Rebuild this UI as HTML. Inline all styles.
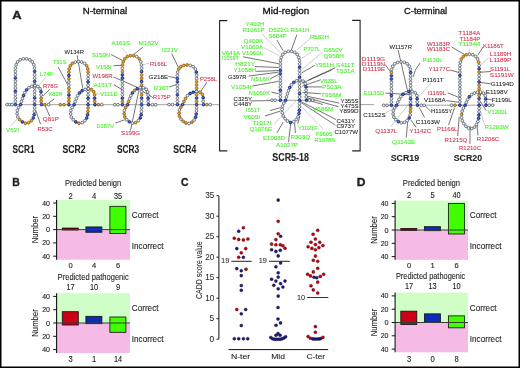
<!DOCTYPE html><html><head><meta charset="utf-8"><style>html,body{margin:0;padding:0;background:#fff;}svg{display:block;font-family:"Liberation Sans",sans-serif;will-change:transform;}</style></head><body><svg width="520" height="368" viewBox="0 0 520 368" font-family="Liberation Sans, sans-serif"><defs><radialGradient id="gl" cx="0.45" cy="0.45" r="0.6"><stop offset="0" stop-color="#ffffff"/><stop offset="0.55" stop-color="#dfe8f0"/><stop offset="1" stop-color="#a8b8c8"/></radialGradient><radialGradient id="gb" cx="0.45" cy="0.45" r="0.6"><stop offset="0" stop-color="#6a8cf0"/><stop offset="0.5" stop-color="#2a4cc8"/><stop offset="1" stop-color="#12289a"/></radialGradient><radialGradient id="go" cx="0.45" cy="0.45" r="0.6"><stop offset="0" stop-color="#f0b430"/><stop offset="0.6" stop-color="#d8961a"/><stop offset="1" stop-color="#b07408"/></radialGradient></defs><rect x="0" y="0" width="520" height="368" fill="#fff"/><line x1="58.10" y1="66.90" x2="67.50" y2="84.40" stroke="#2a2a2a" stroke-width="0.65"/><line x1="45.60" y1="77.25" x2="38.75" y2="85.60" stroke="#9a9a9a" stroke-width="0.5"/><line x1="49.75" y1="89.40" x2="43.10" y2="96.00" stroke="#2a2a2a" stroke-width="0.65"/><line x1="54.40" y1="98.75" x2="48.75" y2="103.10" stroke="#2a2a2a" stroke-width="0.65"/><line x1="10.50" y1="126.20" x2="17.20" y2="118.80" stroke="#9a9a9a" stroke-width="0.5"/><line x1="40.60" y1="124.30" x2="35.70" y2="110.20" stroke="#2a2a2a" stroke-width="0.65"/><line x1="49.80" y1="116.30" x2="44.90" y2="105.20" stroke="#2a2a2a" stroke-width="0.65"/><line x1="77.20" y1="55.40" x2="82.75" y2="88.50" stroke="#2a2a2a" stroke-width="0.65"/><line x1="111.10" y1="54.50" x2="122.20" y2="60.30" stroke="#2a2a2a" stroke-width="0.65"/><line x1="113.50" y1="65.80" x2="121.50" y2="65.20" stroke="#2a2a2a" stroke-width="0.65"/><line x1="113.20" y1="76.90" x2="137.10" y2="87.20" stroke="#2a2a2a" stroke-width="0.65"/><line x1="114.00" y1="84.60" x2="122.50" y2="90.00" stroke="#2a2a2a" stroke-width="0.65"/><line x1="95.70" y1="93.80" x2="99.60" y2="93.80" stroke="#9a9a9a" stroke-width="0.5"/><line x1="121.40" y1="47.50" x2="128.30" y2="55.20" stroke="#9a9a9a" stroke-width="0.5"/><line x1="142.90" y1="47.10" x2="132.90" y2="55.20" stroke="#2a2a2a" stroke-width="0.65"/><line x1="149.10" y1="62.90" x2="142.20" y2="65.20" stroke="#9a9a9a" stroke-width="0.5"/><line x1="153.20" y1="97.70" x2="141.70" y2="90.80" stroke="#2a2a2a" stroke-width="0.65"/><line x1="130.50" y1="130.50" x2="139.50" y2="87.50" stroke="#2a2a2a" stroke-width="0.65"/><line x1="115.40" y1="123.10" x2="124.75" y2="119.75" stroke="#2a2a2a" stroke-width="0.65"/><line x1="168.30" y1="76.40" x2="176.30" y2="78.00" stroke="#2a2a2a" stroke-width="0.65"/><line x1="169.40" y1="86.90" x2="176.30" y2="84.60" stroke="#2a2a2a" stroke-width="0.65"/><line x1="171.70" y1="53.50" x2="178.50" y2="67.70" stroke="#2a2a2a" stroke-width="0.65"/><line x1="206.90" y1="82.25" x2="200.60" y2="91.60" stroke="#2a2a2a" stroke-width="0.65"/><line x1="261.50" y1="33.50" x2="280.80" y2="53.10" stroke="#9a9a9a" stroke-width="0.5"/><line x1="276.90" y1="40.00" x2="283.10" y2="50.80" stroke="#2a2a2a" stroke-width="0.65"/><line x1="296.90" y1="34.60" x2="291.10" y2="50.80" stroke="#2a2a2a" stroke-width="0.65"/><line x1="263.80" y1="47.70" x2="279.20" y2="55.70" stroke="#9a9a9a" stroke-width="0.5"/><line x1="243.10" y1="56.80" x2="278.50" y2="63.70" stroke="#2a2a2a" stroke-width="0.65"/><line x1="254.60" y1="66.50" x2="278.50" y2="67.50" stroke="#2a2a2a" stroke-width="0.65"/><line x1="256.20" y1="71.40" x2="278.50" y2="70.60" stroke="#2a2a2a" stroke-width="0.65"/><line x1="248.50" y1="76.00" x2="278.50" y2="72.20" stroke="#2a2a2a" stroke-width="0.65"/><line x1="270.00" y1="79.00" x2="278.50" y2="74.50" stroke="#2a2a2a" stroke-width="0.65"/><line x1="252.30" y1="86.00" x2="278.50" y2="81.40" stroke="#2a2a2a" stroke-width="0.65"/><line x1="271.50" y1="92.20" x2="278.50" y2="93.70" stroke="#2a2a2a" stroke-width="0.65"/><line x1="250.80" y1="100.90" x2="270.80" y2="100.60" stroke="#2a2a2a" stroke-width="0.65"/><line x1="310.00" y1="38.50" x2="296.90" y2="50.00" stroke="#9a9a9a" stroke-width="0.5"/><line x1="310.80" y1="52.30" x2="301.50" y2="58.50" stroke="#9a9a9a" stroke-width="0.5"/><line x1="322.30" y1="52.30" x2="302.30" y2="69.20" stroke="#9a9a9a" stroke-width="0.5"/><line x1="314.60" y1="65.40" x2="301.50" y2="73.00" stroke="#2a2a2a" stroke-width="0.65"/><line x1="335.40" y1="67.70" x2="308.50" y2="80.00" stroke="#2a2a2a" stroke-width="0.65"/><line x1="331.50" y1="70.00" x2="302.30" y2="83.10" stroke="#2a2a2a" stroke-width="0.65"/><line x1="320.00" y1="80.00" x2="302.30" y2="86.20" stroke="#2a2a2a" stroke-width="0.65"/><line x1="322.30" y1="86.90" x2="306.90" y2="86.90" stroke="#2a2a2a" stroke-width="0.65"/><line x1="320.80" y1="93.80" x2="302.30" y2="92.30" stroke="#2a2a2a" stroke-width="0.65"/><line x1="339.20" y1="103.10" x2="306.90" y2="96.20" stroke="#2a2a2a" stroke-width="0.65"/><line x1="338.50" y1="106.80" x2="306.00" y2="97.50" stroke="#2a2a2a" stroke-width="0.65"/><line x1="323.00" y1="104.50" x2="306.90" y2="99.80" stroke="#2a2a2a" stroke-width="0.65"/><line x1="335.40" y1="125.20" x2="301.50" y2="102.90" stroke="#2a2a2a" stroke-width="0.65"/><line x1="336.00" y1="119.50" x2="299.50" y2="100.80" stroke="#2a2a2a" stroke-width="0.65"/><line x1="323.00" y1="129.00" x2="302.30" y2="107.50" stroke="#9a9a9a" stroke-width="0.5"/><line x1="297.70" y1="123.70" x2="300.00" y2="116.00" stroke="#2a2a2a" stroke-width="0.65"/><line x1="294.60" y1="122.90" x2="295.40" y2="133.00" stroke="#2a2a2a" stroke-width="0.65"/><line x1="290.80" y1="122.90" x2="288.50" y2="142.20" stroke="#2a2a2a" stroke-width="0.65"/><line x1="283.10" y1="122.20" x2="276.90" y2="133.00" stroke="#2a2a2a" stroke-width="0.65"/><line x1="273.80" y1="124.50" x2="296.20" y2="100.60" stroke="#9a9a9a" stroke-width="0.5"/><line x1="270.00" y1="110.60" x2="280.80" y2="107.50" stroke="#2a2a2a" stroke-width="0.65"/><line x1="265.00" y1="116.00" x2="280.50" y2="111.00" stroke="#2a2a2a" stroke-width="0.65"/><line x1="385.00" y1="64.40" x2="390.60" y2="71.90" stroke="#2a2a2a" stroke-width="0.65"/><line x1="398.10" y1="50.00" x2="407.70" y2="91.50" stroke="#2a2a2a" stroke-width="0.65"/><line x1="415.40" y1="70.00" x2="413.10" y2="76.90" stroke="#2a2a2a" stroke-width="0.65"/><line x1="420.00" y1="63.10" x2="415.40" y2="70.00" stroke="#2a2a2a" stroke-width="0.65"/><line x1="385.40" y1="93.10" x2="410.80" y2="94.60" stroke="#2a2a2a" stroke-width="0.65"/><line x1="430.80" y1="83.10" x2="418.50" y2="96.90" stroke="#9a9a9a" stroke-width="0.5"/><line x1="385.40" y1="113.10" x2="394.60" y2="107.50" stroke="#9a9a9a" stroke-width="0.5"/><line x1="390.80" y1="126.80" x2="410.00" y2="102.20" stroke="#9a9a9a" stroke-width="0.5"/><line x1="416.20" y1="127.50" x2="410.80" y2="119.80" stroke="#2a2a2a" stroke-width="0.65"/><line x1="406.20" y1="137.50" x2="407.70" y2="122.20" stroke="#2a2a2a" stroke-width="0.65"/><line x1="424.60" y1="117.50" x2="419.20" y2="107.50" stroke="#2a2a2a" stroke-width="0.65"/><line x1="430.80" y1="111.40" x2="425.40" y2="106.00" stroke="#2a2a2a" stroke-width="0.65"/><line x1="451.50" y1="46.90" x2="464.60" y2="54.60" stroke="#2a2a2a" stroke-width="0.65"/><line x1="469.20" y1="48.50" x2="469.20" y2="53.80" stroke="#9a9a9a" stroke-width="0.5"/><line x1="483.10" y1="46.90" x2="477.70" y2="55.40" stroke="#2a2a2a" stroke-width="0.65"/><line x1="489.20" y1="57.70" x2="480.80" y2="64.60" stroke="#9a9a9a" stroke-width="0.5"/><line x1="450.00" y1="70.00" x2="459.20" y2="72.60" stroke="#2a2a2a" stroke-width="0.65"/><line x1="490.80" y1="71.50" x2="479.20" y2="72.30" stroke="#2a2a2a" stroke-width="0.65"/><line x1="490.80" y1="83.80" x2="479.20" y2="82.30" stroke="#2a2a2a" stroke-width="0.65"/><line x1="447.70" y1="92.90" x2="459.20" y2="97.50" stroke="#2a2a2a" stroke-width="0.65"/><line x1="446.20" y1="100.60" x2="458.50" y2="102.20" stroke="#2a2a2a" stroke-width="0.65"/><line x1="448.50" y1="125.20" x2="454.60" y2="107.50" stroke="#2a2a2a" stroke-width="0.65"/><line x1="485.40" y1="92.20" x2="480.00" y2="94.50" stroke="#2a2a2a" stroke-width="0.65"/><line x1="491.50" y1="99.50" x2="486.20" y2="99.10" stroke="#2a2a2a" stroke-width="0.65"/><line x1="486.20" y1="110.60" x2="480.80" y2="102.20" stroke="#2a2a2a" stroke-width="0.65"/><line x1="484.60" y1="125.20" x2="480.80" y2="112.20" stroke="#9a9a9a" stroke-width="0.5"/><line x1="459.20" y1="116.80" x2="457.70" y2="136.00" stroke="#2a2a2a" stroke-width="0.65"/><line x1="470.00" y1="126.00" x2="470.00" y2="144.00" stroke="#2a2a2a" stroke-width="0.65"/><line x1="478.00" y1="135.50" x2="477.00" y2="125.00" stroke="#2a2a2a" stroke-width="0.65"/><line x1="5.00" y1="104.70" x2="219.20" y2="104.70" stroke="#8a8a8a" stroke-width="0.8"/><line x1="266.00" y1="100.25" x2="318.00" y2="100.25" stroke="#8a8a8a" stroke-width="0.8"/><line x1="360.00" y1="104.60" x2="374.00" y2="104.60" stroke="#8a8a8a" stroke-width="0.8"/><line x1="382.00" y1="105.20" x2="495.00" y2="105.20" stroke="#8a8a8a" stroke-width="0.8"/><text x="12.17" y="18.60" font-size="11.63" fill="#222" font-weight="bold" stroke="#222" stroke-width="0.35" textLength="9.37" lengthAdjust="spacingAndGlyphs">A</text><text x="82.80" y="14.30" font-size="9.97" fill="#111" font-weight="normal" stroke="#111" stroke-width="0.3" textLength="44.40" lengthAdjust="spacingAndGlyphs">N-terminal</text><text x="262.60" y="14.30" font-size="9.97" fill="#111" font-weight="normal" stroke="#111" stroke-width="0.3" textLength="46.60" lengthAdjust="spacingAndGlyphs">Mid-region</text><text x="404.10" y="14.30" font-size="9.97" fill="#111" font-weight="normal" stroke="#111" stroke-width="0.3" textLength="43.10" lengthAdjust="spacingAndGlyphs">C-terminal</text><text x="12.49" y="152.90" font-size="10.32" fill="#222" font-weight="bold" stroke="#222" stroke-width="0.08" textLength="22.01" lengthAdjust="spacingAndGlyphs">SCR1</text><text x="62.49" y="152.90" font-size="10.32" fill="#222" font-weight="bold" stroke="#222" stroke-width="0.08" textLength="23.21" lengthAdjust="spacingAndGlyphs">SCR2</text><text x="116.99" y="152.90" font-size="10.32" fill="#222" font-weight="bold" stroke="#222" stroke-width="0.08" textLength="22.21" lengthAdjust="spacingAndGlyphs">SCR3</text><text x="173.29" y="152.90" font-size="10.32" fill="#222" font-weight="bold" stroke="#222" stroke-width="0.08" textLength="22.91" lengthAdjust="spacingAndGlyphs">SCR4</text><text x="272.29" y="161.40" font-size="10.32" fill="#222" font-weight="bold" stroke="#222" stroke-width="0.08" textLength="36.61" lengthAdjust="spacingAndGlyphs">SCR5-18</text><text x="390.70" y="161.20" font-size="9.88" fill="#222" font-weight="bold" stroke="#222" stroke-width="0.08" textLength="28.40" lengthAdjust="spacingAndGlyphs">SCR19</text><text x="453.70" y="161.20" font-size="9.88" fill="#222" font-weight="bold" stroke="#222" stroke-width="0.08" textLength="28.40" lengthAdjust="spacingAndGlyphs">SCR20</text><text x="64.38" y="54.00" font-size="6.25" fill="#222" font-weight="normal" stroke="#222" stroke-width="0.07" textLength="19.50" lengthAdjust="spacingAndGlyphs">W134R</text><text x="53.12" y="64.00" font-size="6.25" fill="#3cee1c" font-weight="normal" stroke="#3cee1c" stroke-width="0.07" textLength="13.25" lengthAdjust="spacingAndGlyphs">T91S</text><text x="39.88" y="75.75" font-size="6.25" fill="#3cee1c" font-weight="normal" stroke="#3cee1c" stroke-width="0.07" textLength="13.50" lengthAdjust="spacingAndGlyphs">L74F</text><text x="42.88" y="87.50" font-size="6.25" fill="#d42a45" font-weight="normal" stroke="#d42a45" stroke-width="0.07" textLength="15.25" lengthAdjust="spacingAndGlyphs">R78G</text><text x="48.62" y="95.50" font-size="6.25" fill="#3cee1c" font-weight="normal" stroke="#3cee1c" stroke-width="0.07" textLength="14.00" lengthAdjust="spacingAndGlyphs">K82R</text><text x="42.88" y="121.00" font-size="6.25" fill="#d42a45" font-weight="normal" stroke="#d42a45" stroke-width="0.07" textLength="16.00" lengthAdjust="spacingAndGlyphs">Q81P</text><text x="37.38" y="130.50" font-size="6.25" fill="#d42a45" font-weight="normal" stroke="#d42a45" stroke-width="0.07" textLength="15.25" lengthAdjust="spacingAndGlyphs">R53C</text><text x="6.12" y="131.70" font-size="6.25" fill="#3cee1c" font-weight="normal" stroke="#3cee1c" stroke-width="0.07" textLength="12.75" lengthAdjust="spacingAndGlyphs">V62I</text><text x="111.38" y="45.25" font-size="6.25" fill="#3cee1c" font-weight="normal" stroke="#3cee1c" stroke-width="0.07" textLength="18.75" lengthAdjust="spacingAndGlyphs">A161S</text><text x="138.62" y="45.25" font-size="6.25" fill="#3cee1c" font-weight="normal" stroke="#3cee1c" stroke-width="0.07" textLength="20.25" lengthAdjust="spacingAndGlyphs">M162V</text><text x="91.88" y="56.80" font-size="6.25" fill="#3cee1c" font-weight="normal" stroke="#3cee1c" stroke-width="0.07" textLength="18.25" lengthAdjust="spacingAndGlyphs">S159N</text><text x="96.12" y="68.75" font-size="6.25" fill="#3cee1c" font-weight="normal" stroke="#3cee1c" stroke-width="0.07" textLength="15.25" lengthAdjust="spacingAndGlyphs">V158I</text><text x="92.38" y="78.25" font-size="6.25" fill="#d42a45" font-weight="normal" stroke="#d42a45" stroke-width="0.07" textLength="20.25" lengthAdjust="spacingAndGlyphs">W198R</text><text x="93.62" y="86.80" font-size="6.25" fill="#3cee1c" font-weight="normal" stroke="#3cee1c" stroke-width="0.07" textLength="18.50" lengthAdjust="spacingAndGlyphs">A151T</text><text x="99.88" y="95.50" font-size="6.25" fill="#3cee1c" font-weight="normal" stroke="#3cee1c" stroke-width="0.07" textLength="17.75" lengthAdjust="spacingAndGlyphs">V111E</text><text x="96.38" y="127.50" font-size="6.25" fill="#3cee1c" font-weight="normal" stroke="#3cee1c" stroke-width="0.07" textLength="17.75" lengthAdjust="spacingAndGlyphs">D187V</text><text x="121.12" y="135.30" font-size="6.25" fill="#d42a45" font-weight="normal" stroke="#d42a45" stroke-width="0.07" textLength="19.00" lengthAdjust="spacingAndGlyphs">S199G</text><text x="161.97" y="51.80" font-size="6.25" fill="#3cee1c" font-weight="normal" stroke="#3cee1c" stroke-width="0.07" textLength="15.95" lengthAdjust="spacingAndGlyphs">I221V</text><text x="149.88" y="66.00" font-size="6.25" fill="#d42a45" font-weight="normal" stroke="#d42a45" stroke-width="0.07" textLength="17.25" lengthAdjust="spacingAndGlyphs">R166L</text><text x="148.62" y="78.50" font-size="6.25" fill="#222" font-weight="normal" stroke="#222" stroke-width="0.07" textLength="19.50" lengthAdjust="spacingAndGlyphs">G218E</text><text x="199.88" y="81.00" font-size="6.25" fill="#d42a45" font-weight="normal" stroke="#d42a45" stroke-width="0.07" textLength="17.25" lengthAdjust="spacingAndGlyphs">P258L</text><text x="153.62" y="89.70" font-size="6.25" fill="#3cee1c" font-weight="normal" stroke="#3cee1c" stroke-width="0.07" textLength="15.25" lengthAdjust="spacingAndGlyphs">I216T</text><text x="153.12" y="99.20" font-size="6.25" fill="#d42a45" font-weight="normal" stroke="#d42a45" stroke-width="0.07" textLength="17.50" lengthAdjust="spacingAndGlyphs">R175P</text><text x="245.62" y="26.20" font-size="6.25" fill="#3cee1c" font-weight="normal" stroke="#3cee1c" stroke-width="0.07" textLength="19.00" lengthAdjust="spacingAndGlyphs">Y402H</text><text x="242.38" y="32.40" font-size="6.25" fill="#3cee1c" font-weight="normal" stroke="#3cee1c" stroke-width="0.07" textLength="22.25" lengthAdjust="spacingAndGlyphs">R1061P</text><text x="268.62" y="32.40" font-size="6.25" fill="#3cee1c" font-weight="normal" stroke="#3cee1c" stroke-width="0.07" textLength="20.25" lengthAdjust="spacingAndGlyphs">D522G</text><text x="290.38" y="32.40" font-size="6.25" fill="#3cee1c" font-weight="normal" stroke="#3cee1c" stroke-width="0.07" textLength="19.00" lengthAdjust="spacingAndGlyphs">R341H</text><text x="268.62" y="37.50" font-size="6.25" fill="#3cee1c" font-weight="normal" stroke="#3cee1c" stroke-width="0.07" textLength="17.75" lengthAdjust="spacingAndGlyphs">S884P</text><text x="309.88" y="38.60" font-size="6.25" fill="#3cee1c" font-weight="normal" stroke="#3cee1c" stroke-width="0.07" textLength="19.00" lengthAdjust="spacingAndGlyphs">R582H</text><text x="243.62" y="42.80" font-size="6.25" fill="#3cee1c" font-weight="normal" stroke="#3cee1c" stroke-width="0.07" textLength="19.50" lengthAdjust="spacingAndGlyphs">Q400K</text><text x="241.12" y="48.70" font-size="6.25" fill="#3cee1c" font-weight="normal" stroke="#3cee1c" stroke-width="0.07" textLength="22.00" lengthAdjust="spacingAndGlyphs">V1060A</text><text x="221.88" y="54.90" font-size="6.25" fill="#3cee1c" font-weight="normal" stroke="#3cee1c" stroke-width="0.07" textLength="18.25" lengthAdjust="spacingAndGlyphs">V641A</text><text x="241.88" y="54.90" font-size="6.25" fill="#3cee1c" font-weight="normal" stroke="#3cee1c" stroke-width="0.07" textLength="21.25" lengthAdjust="spacingAndGlyphs">V1060L</text><text x="221.88" y="60.00" font-size="6.25" fill="#3cee1c" font-weight="normal" stroke="#3cee1c" stroke-width="0.07" textLength="17.00" lengthAdjust="spacingAndGlyphs">I1059T</text><text x="235.38" y="66.20" font-size="6.25" fill="#3cee1c" font-weight="normal" stroke="#3cee1c" stroke-width="0.07" textLength="19.75" lengthAdjust="spacingAndGlyphs">H821Y</text><text x="233.62" y="72.00" font-size="6.25" fill="#3cee1c" font-weight="normal" stroke="#3cee1c" stroke-width="0.07" textLength="22.75" lengthAdjust="spacingAndGlyphs">Y1058H</text><text x="227.88" y="78.80" font-size="6.25" fill="#222" font-weight="normal" stroke="#222" stroke-width="0.07" textLength="18.50" lengthAdjust="spacingAndGlyphs">G397R</text><text x="251.12" y="81.00" font-size="6.25" fill="#3cee1c" font-weight="normal" stroke="#3cee1c" stroke-width="0.07" textLength="19.00" lengthAdjust="spacingAndGlyphs">N516K</text><text x="231.12" y="89.30" font-size="6.25" fill="#3cee1c" font-weight="normal" stroke="#3cee1c" stroke-width="0.07" textLength="20.25" lengthAdjust="spacingAndGlyphs">V1054I</text><text x="248.62" y="95.20" font-size="6.25" fill="#3cee1c" font-weight="normal" stroke="#3cee1c" stroke-width="0.07" textLength="21.50" lengthAdjust="spacingAndGlyphs">N1050K</text><text x="233.62" y="100.60" font-size="6.25" fill="#222" font-weight="normal" stroke="#222" stroke-width="0.07" textLength="18.50" lengthAdjust="spacingAndGlyphs">C325Y</text><text x="233.62" y="106.40" font-size="6.25" fill="#222" font-weight="normal" stroke="#222" stroke-width="0.07" textLength="18.50" lengthAdjust="spacingAndGlyphs">C448Y</text><text x="303.62" y="51.00" font-size="6.25" fill="#3cee1c" font-weight="normal" stroke="#3cee1c" stroke-width="0.07" textLength="16.50" lengthAdjust="spacingAndGlyphs">P707L</text><text x="323.62" y="51.80" font-size="6.25" fill="#3cee1c" font-weight="normal" stroke="#3cee1c" stroke-width="0.07" textLength="19.00" lengthAdjust="spacingAndGlyphs">G650V</text><text x="323.62" y="57.80" font-size="6.25" fill="#3cee1c" font-weight="normal" stroke="#3cee1c" stroke-width="0.07" textLength="20.25" lengthAdjust="spacingAndGlyphs">Q950H</text><text x="314.88" y="67.30" font-size="6.25" fill="#3cee1c" font-weight="normal" stroke="#3cee1c" stroke-width="0.07" textLength="19.00" lengthAdjust="spacingAndGlyphs">Y951H</text><text x="336.12" y="67.30" font-size="6.25" fill="#3cee1c" font-weight="normal" stroke="#3cee1c" stroke-width="0.07" textLength="18.50" lengthAdjust="spacingAndGlyphs">S411T</text><text x="336.12" y="72.50" font-size="6.25" fill="#3cee1c" font-weight="normal" stroke="#3cee1c" stroke-width="0.07" textLength="18.50" lengthAdjust="spacingAndGlyphs">T531A</text><text x="319.88" y="82.50" font-size="6.25" fill="#3cee1c" font-weight="normal" stroke="#3cee1c" stroke-width="0.07" textLength="17.75" lengthAdjust="spacingAndGlyphs">V835L</text><text x="322.38" y="89.30" font-size="6.25" fill="#3cee1c" font-weight="normal" stroke="#3cee1c" stroke-width="0.07" textLength="19.00" lengthAdjust="spacingAndGlyphs">P503A</text><text x="321.12" y="96.70" font-size="6.25" fill="#3cee1c" font-weight="normal" stroke="#3cee1c" stroke-width="0.07" textLength="20.25" lengthAdjust="spacingAndGlyphs">T956M</text><text x="340.38" y="102.50" font-size="6.25" fill="#222" font-weight="normal" stroke="#222" stroke-width="0.07" textLength="18.25" lengthAdjust="spacingAndGlyphs">Y355S</text><text x="340.38" y="107.80" font-size="6.25" fill="#222" font-weight="normal" stroke="#222" stroke-width="0.07" textLength="18.25" lengthAdjust="spacingAndGlyphs">Y475S</text><text x="339.38" y="113.00" font-size="6.25" fill="#222" font-weight="normal" stroke="#222" stroke-width="0.07" textLength="19.25" lengthAdjust="spacingAndGlyphs">Y899D</text><text x="246.12" y="112.30" font-size="6.25" fill="#3cee1c" font-weight="normal" stroke="#3cee1c" stroke-width="0.07" textLength="14.00" lengthAdjust="spacingAndGlyphs">I551T</text><text x="243.62" y="118.60" font-size="6.25" fill="#3cee1c" font-weight="normal" stroke="#3cee1c" stroke-width="0.07" textLength="16.50" lengthAdjust="spacingAndGlyphs">V609I</text><text x="252.38" y="124.90" font-size="6.25" fill="#3cee1c" font-weight="normal" stroke="#3cee1c" stroke-width="0.07" textLength="19.00" lengthAdjust="spacingAndGlyphs">T1017I</text><text x="249.38" y="131.20" font-size="6.25" fill="#3cee1c" font-weight="normal" stroke="#3cee1c" stroke-width="0.07" textLength="22.75" lengthAdjust="spacingAndGlyphs">Q1076E</text><text x="262.88" y="139.70" font-size="6.25" fill="#3cee1c" font-weight="normal" stroke="#3cee1c" stroke-width="0.07" textLength="22.25" lengthAdjust="spacingAndGlyphs">E1088D</text><text x="290.38" y="138.70" font-size="6.25" fill="#3cee1c" font-weight="normal" stroke="#3cee1c" stroke-width="0.07" textLength="19.75" lengthAdjust="spacingAndGlyphs">R303Q</text><text x="276.07" y="147.30" font-size="6.25" fill="#3cee1c" font-weight="normal" stroke="#3cee1c" stroke-width="0.07" textLength="21.85" lengthAdjust="spacingAndGlyphs">A1027P</text><text x="297.88" y="129.60" font-size="6.25" fill="#3cee1c" font-weight="normal" stroke="#3cee1c" stroke-width="0.07" textLength="19.75" lengthAdjust="spacingAndGlyphs">Y1021F</text><text x="313.12" y="111.20" font-size="6.25" fill="#3cee1c" font-weight="normal" stroke="#3cee1c" stroke-width="0.07" textLength="20.25" lengthAdjust="spacingAndGlyphs">V686M</text><text x="316.12" y="136.20" font-size="6.25" fill="#3cee1c" font-weight="normal" stroke="#3cee1c" stroke-width="0.07" textLength="16.50" lengthAdjust="spacingAndGlyphs">F960S</text><text x="314.38" y="141.70" font-size="6.25" fill="#3cee1c" font-weight="normal" stroke="#3cee1c" stroke-width="0.07" textLength="20.75" lengthAdjust="spacingAndGlyphs">R1078S</text><text x="336.38" y="122.50" font-size="6.25" fill="#222" font-weight="normal" stroke="#222" stroke-width="0.07" textLength="18.75" lengthAdjust="spacingAndGlyphs">C431Y</text><text x="336.38" y="128.20" font-size="6.25" fill="#222" font-weight="normal" stroke="#222" stroke-width="0.07" textLength="18.75" lengthAdjust="spacingAndGlyphs">C973Y</text><text x="334.38" y="133.90" font-size="6.25" fill="#222" font-weight="normal" stroke="#222" stroke-width="0.07" textLength="23.75" lengthAdjust="spacingAndGlyphs">C1077W</text><text x="389.38" y="48.60" font-size="6.25" fill="#222" font-weight="normal" stroke="#222" stroke-width="0.07" textLength="22.55" lengthAdjust="spacingAndGlyphs">W1157R</text><text x="361.88" y="61.00" font-size="6.25" fill="#d42a45" font-weight="normal" stroke="#d42a45" stroke-width="0.07" textLength="23.25" lengthAdjust="spacingAndGlyphs">D1119G</text><text x="361.88" y="66.00" font-size="6.25" fill="#d42a45" font-weight="normal" stroke="#d42a45" stroke-width="0.07" textLength="23.25" lengthAdjust="spacingAndGlyphs">D1119N</text><text x="362.88" y="71.00" font-size="6.25" fill="#d42a45" font-weight="normal" stroke="#d42a45" stroke-width="0.07" textLength="22.25" lengthAdjust="spacingAndGlyphs">D1119E</text><text x="422.38" y="61.70" font-size="6.25" fill="#3cee1c" font-weight="normal" stroke="#3cee1c" stroke-width="0.07" textLength="20.25" lengthAdjust="spacingAndGlyphs">P1130L</text><text x="422.38" y="82.00" font-size="6.25" fill="#222" font-weight="normal" stroke="#222" stroke-width="0.07" textLength="21.25" lengthAdjust="spacingAndGlyphs">P1161T</text><text x="363.38" y="95.20" font-size="6.25" fill="#3cee1c" font-weight="normal" stroke="#3cee1c" stroke-width="0.07" textLength="20.75" lengthAdjust="spacingAndGlyphs">E1135D</text><text x="363.38" y="117.00" font-size="6.25" fill="#222" font-weight="normal" stroke="#222" stroke-width="0.07" textLength="22.25" lengthAdjust="spacingAndGlyphs">C1152S</text><text x="427.88" y="95.20" font-size="6.25" fill="#d42a45" font-weight="normal" stroke="#d42a45" stroke-width="0.07" textLength="18.25" lengthAdjust="spacingAndGlyphs">I1169L</text><text x="423.88" y="101.60" font-size="6.25" fill="#222" font-weight="normal" stroke="#222" stroke-width="0.07" textLength="21.75" lengthAdjust="spacingAndGlyphs">V1168A</text><text x="430.88" y="113.20" font-size="6.25" fill="#222" font-weight="normal" stroke="#222" stroke-width="0.07" textLength="21.50" lengthAdjust="spacingAndGlyphs">H1165Y</text><text x="415.88" y="123.50" font-size="6.25" fill="#222" font-weight="normal" stroke="#222" stroke-width="0.07" textLength="24.00" lengthAdjust="spacingAndGlyphs">C1163W</text><text x="375.38" y="133.00" font-size="6.25" fill="#d42a45" font-weight="normal" stroke="#d42a45" stroke-width="0.07" textLength="22.00" lengthAdjust="spacingAndGlyphs">Q1137L</text><text x="409.62" y="133.00" font-size="6.25" fill="#d42a45" font-weight="normal" stroke="#d42a45" stroke-width="0.07" textLength="21.50" lengthAdjust="spacingAndGlyphs">Y1142C</text><text x="392.12" y="144.00" font-size="6.25" fill="#3cee1c" font-weight="normal" stroke="#3cee1c" stroke-width="0.07" textLength="23.25" lengthAdjust="spacingAndGlyphs">Q1143E</text><text x="437.12" y="131.00" font-size="6.25" fill="#d42a45" font-weight="normal" stroke="#d42a45" stroke-width="0.07" textLength="20.25" lengthAdjust="spacingAndGlyphs">P1166L</text><text x="444.62" y="141.70" font-size="6.25" fill="#d42a45" font-weight="normal" stroke="#d42a45" stroke-width="0.07" textLength="22.75" lengthAdjust="spacingAndGlyphs">R1215Q</text><text x="458.88" y="149.70" font-size="6.25" fill="#d42a45" font-weight="normal" stroke="#d42a45" stroke-width="0.07" textLength="22.25" lengthAdjust="spacingAndGlyphs">R1210C</text><text x="476.77" y="141.00" font-size="6.25" fill="#d42a45" font-weight="normal" stroke="#d42a45" stroke-width="0.07" textLength="22.55" lengthAdjust="spacingAndGlyphs">R1206C</text><text x="484.48" y="129.00" font-size="6.25" fill="#3cee1c" font-weight="normal" stroke="#3cee1c" stroke-width="0.07" textLength="24.15" lengthAdjust="spacingAndGlyphs">R1203W</text><text x="487.57" y="113.90" font-size="6.25" fill="#3cee1c" font-weight="normal" stroke="#3cee1c" stroke-width="0.07" textLength="20.25" lengthAdjust="spacingAndGlyphs">V1200L</text><text x="491.38" y="101.60" font-size="6.25" fill="#222" font-weight="normal" stroke="#222" stroke-width="0.07" textLength="20.25" lengthAdjust="spacingAndGlyphs">F1199L</text><text x="485.88" y="93.70" font-size="6.25" fill="#222" font-weight="normal" stroke="#222" stroke-width="0.07" textLength="21.95" lengthAdjust="spacingAndGlyphs">E1198V</text><text x="490.68" y="85.90" font-size="6.25" fill="#222" font-weight="normal" stroke="#222" stroke-width="0.07" textLength="23.25" lengthAdjust="spacingAndGlyphs">G1194D</text><text x="489.88" y="71.00" font-size="6.25" fill="#d42a45" font-weight="normal" stroke="#d42a45" stroke-width="0.07" textLength="20.25" lengthAdjust="spacingAndGlyphs">S1191L</text><text x="489.88" y="76.70" font-size="6.25" fill="#d42a45" font-weight="normal" stroke="#d42a45" stroke-width="0.07" textLength="24.00" lengthAdjust="spacingAndGlyphs">S1191W</text><text x="489.88" y="56.20" font-size="6.25" fill="#d42a45" font-weight="normal" stroke="#d42a45" stroke-width="0.07" textLength="21.50" lengthAdjust="spacingAndGlyphs">L1189H</text><text x="489.88" y="61.70" font-size="6.25" fill="#d42a45" font-weight="normal" stroke="#d42a45" stroke-width="0.07" textLength="21.50" lengthAdjust="spacingAndGlyphs">L1189P</text><text x="428.62" y="71.20" font-size="6.25" fill="#d42a45" font-weight="normal" stroke="#d42a45" stroke-width="0.07" textLength="21.50" lengthAdjust="spacingAndGlyphs">Y1177C</text><text x="426.88" y="45.50" font-size="6.25" fill="#d42a45" font-weight="normal" stroke="#d42a45" stroke-width="0.07" textLength="23.25" lengthAdjust="spacingAndGlyphs">W1183R</text><text x="426.88" y="51.30" font-size="6.25" fill="#d42a45" font-weight="normal" stroke="#d42a45" stroke-width="0.07" textLength="23.25" lengthAdjust="spacingAndGlyphs">W1183C</text><text x="458.38" y="34.80" font-size="6.25" fill="#d42a45" font-weight="normal" stroke="#d42a45" stroke-width="0.07" textLength="22.00" lengthAdjust="spacingAndGlyphs">T1184A</text><text x="459.38" y="40.60" font-size="6.25" fill="#d42a45" font-weight="normal" stroke="#d42a45" stroke-width="0.07" textLength="21.00" lengthAdjust="spacingAndGlyphs">T1184P</text><text x="458.62" y="45.90" font-size="6.25" fill="#3cee1c" font-weight="normal" stroke="#3cee1c" stroke-width="0.07" textLength="22.00" lengthAdjust="spacingAndGlyphs">T1184R</text><text x="482.88" y="48.20" font-size="6.25" fill="#d42a45" font-weight="normal" stroke="#d42a45" stroke-width="0.07" textLength="21.00" lengthAdjust="spacingAndGlyphs">K1186T</text><path d="M227.3,20.6 H219.6 V150.9 H227.3" fill="none" stroke="#222" stroke-width="1.1"/><path d="M352.2,20.4 H360.1 V150.9 H352.2" fill="none" stroke="#222" stroke-width="1.1"/><text x="12.39" y="185.60" font-size="10.32" fill="#222" font-weight="bold" stroke="#222" stroke-width="0.35" textLength="7.51" lengthAdjust="spacingAndGlyphs">B</text><rect x="57.10" y="200.00" width="72.90" height="29.60" fill="#cfffc6"/><rect x="57.10" y="229.60" width="72.90" height="30.10" fill="#f6bae6"/><rect x="62.30" y="228.07" width="16.00" height="1.93" fill="#5a0008" stroke="#2a0004" stroke-width="0.8"/><rect x="85.90" y="226.94" width="16.00" height="5.32" fill="#0a2cb8" stroke="#151515" stroke-width="0.85"/><rect x="109.90" y="206.32" width="16.00" height="27.27" fill="#40ff00" stroke="#151515" stroke-width="0.85"/><line x1="56.40" y1="229.60" x2="130.00" y2="229.60" stroke="#3a3a3a" stroke-width="1.0"/><line x1="56.60" y1="200.00" x2="56.60" y2="259.70" stroke="#111" stroke-width="1.1"/><line x1="53.20" y1="203.00" x2="56.60" y2="203.00" stroke="#111" stroke-width="1.0"/><text x="42.15" y="205.55" font-size="7.41" fill="#222" font-weight="normal" stroke="#222" stroke-width="0.12" textLength="7.80" lengthAdjust="spacingAndGlyphs">40</text><line x1="53.20" y1="216.30" x2="56.60" y2="216.30" stroke="#111" stroke-width="1.0"/><text x="42.15" y="218.85" font-size="7.41" fill="#222" font-weight="normal" stroke="#222" stroke-width="0.12" textLength="7.80" lengthAdjust="spacingAndGlyphs">20</text><line x1="53.20" y1="229.60" x2="56.60" y2="229.60" stroke="#111" stroke-width="1.0"/><text x="45.90" y="232.15" font-size="7.41" fill="#222" font-weight="normal" stroke="#222" stroke-width="0.12" textLength="4.05" lengthAdjust="spacingAndGlyphs">0</text><line x1="53.20" y1="242.90" x2="56.60" y2="242.90" stroke="#111" stroke-width="1.0"/><text x="42.15" y="245.45" font-size="7.41" fill="#222" font-weight="normal" stroke="#222" stroke-width="0.12" textLength="7.80" lengthAdjust="spacingAndGlyphs">20</text><line x1="53.20" y1="256.20" x2="56.60" y2="256.20" stroke="#111" stroke-width="1.0"/><text x="42.15" y="258.75" font-size="7.41" fill="#222" font-weight="normal" stroke="#222" stroke-width="0.12" textLength="7.80" lengthAdjust="spacingAndGlyphs">40</text><text x="68.38" y="198.70" font-size="8.28" fill="#222" font-weight="normal" stroke="#222" stroke-width="0.12" textLength="4.23" lengthAdjust="spacingAndGlyphs">2</text><text x="91.98" y="198.70" font-size="8.28" fill="#222" font-weight="normal" stroke="#222" stroke-width="0.12" textLength="4.23" lengthAdjust="spacingAndGlyphs">4</text><text x="113.93" y="198.70" font-size="8.28" fill="#222" font-weight="normal" stroke="#222" stroke-width="0.12" textLength="8.13" lengthAdjust="spacingAndGlyphs">35</text><text x="68.39" y="267.90" font-size="7.99" fill="#222" font-weight="normal" stroke="#222" stroke-width="0.12" textLength="4.22" lengthAdjust="spacingAndGlyphs">0</text><text x="91.99" y="267.90" font-size="7.99" fill="#222" font-weight="normal" stroke="#222" stroke-width="0.12" textLength="4.22" lengthAdjust="spacingAndGlyphs">4</text><text x="115.89" y="267.90" font-size="7.99" fill="#222" font-weight="normal" stroke="#222" stroke-width="0.12" textLength="4.22" lengthAdjust="spacingAndGlyphs">6</text><text x="64.92" y="185.70" font-size="9.01" fill="#222" font-weight="normal" stroke="#222" stroke-width="0.1" textLength="56.26" lengthAdjust="spacingAndGlyphs">Predicted benign</text><text x="131.83" y="217.80" font-size="8.43" fill="#222" font-weight="normal" stroke="#222" stroke-width="0.1" textLength="26.64" lengthAdjust="spacingAndGlyphs">Correct</text><text x="131.83" y="248.90" font-size="8.43" fill="#222" font-weight="normal" stroke="#222" stroke-width="0.1" textLength="31.64" lengthAdjust="spacingAndGlyphs">Incorrect</text><text transform="translate(38.40,229.60) rotate(-90)" text-anchor="middle" font-size="9.0" fill="#222" stroke="#222" stroke-width="0.1" textLength="27.5" lengthAdjust="spacingAndGlyphs">Number</text><rect x="57.10" y="293.20" width="72.90" height="29.80" fill="#cfffc6"/><rect x="57.10" y="323.00" width="72.90" height="30.00" fill="#f6bae6"/><rect x="62.30" y="311.69" width="16.00" height="13.30" fill="#cc0016" stroke="#151515" stroke-width="0.85"/><rect x="85.90" y="316.35" width="16.00" height="7.31" fill="#0a2cb8" stroke="#151515" stroke-width="0.85"/><rect x="109.90" y="317.01" width="16.00" height="15.30" fill="#40ff00" stroke="#151515" stroke-width="0.85"/><line x1="56.40" y1="323.00" x2="130.00" y2="323.00" stroke="#3a3a3a" stroke-width="1.0"/><line x1="56.60" y1="293.20" x2="56.60" y2="353.00" stroke="#111" stroke-width="1.1"/><line x1="53.20" y1="296.40" x2="56.60" y2="296.40" stroke="#111" stroke-width="1.0"/><text x="42.15" y="298.95" font-size="7.41" fill="#222" font-weight="normal" stroke="#222" stroke-width="0.12" textLength="7.80" lengthAdjust="spacingAndGlyphs">40</text><line x1="53.20" y1="309.70" x2="56.60" y2="309.70" stroke="#111" stroke-width="1.0"/><text x="42.15" y="312.25" font-size="7.41" fill="#222" font-weight="normal" stroke="#222" stroke-width="0.12" textLength="7.80" lengthAdjust="spacingAndGlyphs">20</text><line x1="53.20" y1="323.00" x2="56.60" y2="323.00" stroke="#111" stroke-width="1.0"/><text x="45.90" y="325.55" font-size="7.41" fill="#222" font-weight="normal" stroke="#222" stroke-width="0.12" textLength="4.05" lengthAdjust="spacingAndGlyphs">0</text><line x1="53.20" y1="336.30" x2="56.60" y2="336.30" stroke="#111" stroke-width="1.0"/><text x="42.15" y="338.85" font-size="7.41" fill="#222" font-weight="normal" stroke="#222" stroke-width="0.12" textLength="7.80" lengthAdjust="spacingAndGlyphs">20</text><line x1="53.20" y1="349.60" x2="56.60" y2="349.60" stroke="#111" stroke-width="1.0"/><text x="42.15" y="352.15" font-size="7.41" fill="#222" font-weight="normal" stroke="#222" stroke-width="0.12" textLength="7.80" lengthAdjust="spacingAndGlyphs">40</text><text x="66.43" y="290.20" font-size="8.58" fill="#222" font-weight="normal" stroke="#222" stroke-width="0.12" textLength="8.14" lengthAdjust="spacingAndGlyphs">17</text><text x="90.03" y="290.20" font-size="8.58" fill="#222" font-weight="normal" stroke="#222" stroke-width="0.12" textLength="8.14" lengthAdjust="spacingAndGlyphs">10</text><text x="115.88" y="290.20" font-size="8.58" fill="#222" font-weight="normal" stroke="#222" stroke-width="0.12" textLength="4.24" lengthAdjust="spacingAndGlyphs">9</text><text x="68.38" y="362.20" font-size="8.58" fill="#222" font-weight="normal" stroke="#222" stroke-width="0.12" textLength="4.24" lengthAdjust="spacingAndGlyphs">3</text><text x="91.98" y="362.20" font-size="8.58" fill="#222" font-weight="normal" stroke="#222" stroke-width="0.12" textLength="4.24" lengthAdjust="spacingAndGlyphs">1</text><text x="113.93" y="362.20" font-size="8.58" fill="#222" font-weight="normal" stroke="#222" stroke-width="0.12" textLength="8.14" lengthAdjust="spacingAndGlyphs">14</text><text x="57.61" y="280.00" font-size="9.45" fill="#222" font-weight="normal" stroke="#222" stroke-width="0.1" textLength="71.18" lengthAdjust="spacingAndGlyphs">Predicted pathogenic</text><text x="131.83" y="311.20" font-size="8.43" fill="#222" font-weight="normal" stroke="#222" stroke-width="0.1" textLength="26.64" lengthAdjust="spacingAndGlyphs">Correct</text><text x="131.83" y="342.30" font-size="8.43" fill="#222" font-weight="normal" stroke="#222" stroke-width="0.1" textLength="31.64" lengthAdjust="spacingAndGlyphs">Incorrect</text><text transform="translate(38.40,323.00) rotate(-90)" text-anchor="middle" font-size="9.0" fill="#222" stroke="#222" stroke-width="0.1" textLength="27.5" lengthAdjust="spacingAndGlyphs">Number</text><text x="356.79" y="185.60" font-size="10.32" fill="#222" font-weight="bold" stroke="#222" stroke-width="0.35" textLength="8.71" lengthAdjust="spacingAndGlyphs">D</text><rect x="395.60" y="200.60" width="72.40" height="29.40" fill="#cfffc6"/><rect x="395.60" y="230.00" width="72.40" height="29.80" fill="#f6bae6"/><rect x="400.80" y="228.47" width="16.00" height="1.93" fill="#5a0008" stroke="#2a0004" stroke-width="0.8"/><rect x="424.40" y="226.68" width="16.00" height="3.99" fill="#0a2cb8" stroke="#151515" stroke-width="0.85"/><rect x="448.40" y="203.40" width="16.00" height="30.59" fill="#40ff00" stroke="#151515" stroke-width="0.85"/><line x1="394.90" y1="230.00" x2="468.00" y2="230.00" stroke="#3a3a3a" stroke-width="1.0"/><line x1="395.10" y1="200.60" x2="395.10" y2="259.80" stroke="#111" stroke-width="1.1"/><line x1="391.70" y1="203.40" x2="395.10" y2="203.40" stroke="#111" stroke-width="1.0"/><text x="380.65" y="205.95" font-size="7.41" fill="#222" font-weight="normal" stroke="#222" stroke-width="0.12" textLength="7.80" lengthAdjust="spacingAndGlyphs">40</text><line x1="391.70" y1="216.70" x2="395.10" y2="216.70" stroke="#111" stroke-width="1.0"/><text x="380.65" y="219.25" font-size="7.41" fill="#222" font-weight="normal" stroke="#222" stroke-width="0.12" textLength="7.80" lengthAdjust="spacingAndGlyphs">20</text><line x1="391.70" y1="230.00" x2="395.10" y2="230.00" stroke="#111" stroke-width="1.0"/><text x="384.40" y="232.55" font-size="7.41" fill="#222" font-weight="normal" stroke="#222" stroke-width="0.12" textLength="4.05" lengthAdjust="spacingAndGlyphs">0</text><line x1="391.70" y1="243.30" x2="395.10" y2="243.30" stroke="#111" stroke-width="1.0"/><text x="380.65" y="245.85" font-size="7.41" fill="#222" font-weight="normal" stroke="#222" stroke-width="0.12" textLength="7.80" lengthAdjust="spacingAndGlyphs">20</text><line x1="391.70" y1="256.60" x2="395.10" y2="256.60" stroke="#111" stroke-width="1.0"/><text x="380.65" y="259.15" font-size="7.41" fill="#222" font-weight="normal" stroke="#222" stroke-width="0.12" textLength="7.80" lengthAdjust="spacingAndGlyphs">40</text><text x="406.88" y="197.80" font-size="8.58" fill="#222" font-weight="normal" stroke="#222" stroke-width="0.12" textLength="4.24" lengthAdjust="spacingAndGlyphs">2</text><text x="430.48" y="197.80" font-size="8.58" fill="#222" font-weight="normal" stroke="#222" stroke-width="0.12" textLength="4.24" lengthAdjust="spacingAndGlyphs">5</text><text x="452.43" y="197.80" font-size="8.58" fill="#222" font-weight="normal" stroke="#222" stroke-width="0.12" textLength="8.14" lengthAdjust="spacingAndGlyphs">40</text><text x="406.89" y="267.90" font-size="7.99" fill="#222" font-weight="normal" stroke="#222" stroke-width="0.12" textLength="4.22" lengthAdjust="spacingAndGlyphs">0</text><text x="430.49" y="267.90" font-size="7.99" fill="#222" font-weight="normal" stroke="#222" stroke-width="0.12" textLength="4.22" lengthAdjust="spacingAndGlyphs">1</text><text x="454.39" y="267.90" font-size="7.99" fill="#222" font-weight="normal" stroke="#222" stroke-width="0.12" textLength="4.22" lengthAdjust="spacingAndGlyphs">6</text><text x="402.82" y="185.70" font-size="9.01" fill="#222" font-weight="normal" stroke="#222" stroke-width="0.1" textLength="57.26" lengthAdjust="spacingAndGlyphs">Predicted benign</text><text x="469.83" y="218.20" font-size="8.43" fill="#222" font-weight="normal" stroke="#222" stroke-width="0.1" textLength="26.64" lengthAdjust="spacingAndGlyphs">Correct</text><text x="469.83" y="249.30" font-size="8.43" fill="#222" font-weight="normal" stroke="#222" stroke-width="0.1" textLength="31.64" lengthAdjust="spacingAndGlyphs">Incorrect</text><text transform="translate(376.90,230.00) rotate(-90)" text-anchor="middle" font-size="9.0" fill="#222" stroke="#222" stroke-width="0.1" textLength="27.5" lengthAdjust="spacingAndGlyphs">Number</text><rect x="395.60" y="292.60" width="72.40" height="29.90" fill="#cfffc6"/><rect x="395.60" y="322.50" width="72.40" height="29.80" fill="#f6bae6"/><rect x="400.80" y="311.19" width="16.00" height="13.30" fill="#cc0016" stroke="#151515" stroke-width="0.85"/><rect x="424.40" y="313.86" width="16.00" height="8.64" fill="#0a2cb8" stroke="#151515" stroke-width="0.85"/><rect x="448.40" y="315.85" width="16.00" height="11.97" fill="#40ff00" stroke="#151515" stroke-width="0.85"/><line x1="394.90" y1="322.50" x2="468.00" y2="322.50" stroke="#3a3a3a" stroke-width="1.0"/><line x1="395.10" y1="292.60" x2="395.10" y2="352.30" stroke="#111" stroke-width="1.1"/><line x1="391.70" y1="295.90" x2="395.10" y2="295.90" stroke="#111" stroke-width="1.0"/><text x="380.65" y="298.45" font-size="7.41" fill="#222" font-weight="normal" stroke="#222" stroke-width="0.12" textLength="7.80" lengthAdjust="spacingAndGlyphs">40</text><line x1="391.70" y1="309.20" x2="395.10" y2="309.20" stroke="#111" stroke-width="1.0"/><text x="380.65" y="311.75" font-size="7.41" fill="#222" font-weight="normal" stroke="#222" stroke-width="0.12" textLength="7.80" lengthAdjust="spacingAndGlyphs">20</text><line x1="391.70" y1="322.50" x2="395.10" y2="322.50" stroke="#111" stroke-width="1.0"/><text x="384.40" y="325.05" font-size="7.41" fill="#222" font-weight="normal" stroke="#222" stroke-width="0.12" textLength="4.05" lengthAdjust="spacingAndGlyphs">0</text><line x1="391.70" y1="335.80" x2="395.10" y2="335.80" stroke="#111" stroke-width="1.0"/><text x="380.65" y="338.35" font-size="7.41" fill="#222" font-weight="normal" stroke="#222" stroke-width="0.12" textLength="7.80" lengthAdjust="spacingAndGlyphs">20</text><line x1="391.70" y1="349.10" x2="395.10" y2="349.10" stroke="#111" stroke-width="1.0"/><text x="380.65" y="351.65" font-size="7.41" fill="#222" font-weight="normal" stroke="#222" stroke-width="0.12" textLength="7.80" lengthAdjust="spacingAndGlyphs">40</text><text x="404.93" y="289.30" font-size="8.72" fill="#222" font-weight="normal" stroke="#222" stroke-width="0.12" textLength="8.15" lengthAdjust="spacingAndGlyphs">17</text><text x="428.53" y="289.30" font-size="8.72" fill="#222" font-weight="normal" stroke="#222" stroke-width="0.12" textLength="8.15" lengthAdjust="spacingAndGlyphs">13</text><text x="452.43" y="289.30" font-size="8.72" fill="#222" font-weight="normal" stroke="#222" stroke-width="0.12" textLength="8.15" lengthAdjust="spacingAndGlyphs">10</text><text x="406.88" y="362.20" font-size="8.58" fill="#222" font-weight="normal" stroke="#222" stroke-width="0.12" textLength="4.24" lengthAdjust="spacingAndGlyphs">3</text><text x="430.48" y="362.20" font-size="8.58" fill="#222" font-weight="normal" stroke="#222" stroke-width="0.12" textLength="4.24" lengthAdjust="spacingAndGlyphs">0</text><text x="454.38" y="362.20" font-size="8.58" fill="#222" font-weight="normal" stroke="#222" stroke-width="0.12" textLength="4.24" lengthAdjust="spacingAndGlyphs">8</text><text x="395.91" y="279.30" font-size="9.45" fill="#222" font-weight="normal" stroke="#222" stroke-width="0.1" textLength="69.38" lengthAdjust="spacingAndGlyphs">Predicted pathogenic</text><text x="469.83" y="310.70" font-size="8.43" fill="#222" font-weight="normal" stroke="#222" stroke-width="0.1" textLength="26.64" lengthAdjust="spacingAndGlyphs">Correct</text><text x="469.83" y="341.80" font-size="8.43" fill="#222" font-weight="normal" stroke="#222" stroke-width="0.1" textLength="31.64" lengthAdjust="spacingAndGlyphs">Incorrect</text><text transform="translate(376.90,322.50) rotate(-90)" text-anchor="middle" font-size="9.0" fill="#222" stroke="#222" stroke-width="0.1" textLength="27.5" lengthAdjust="spacingAndGlyphs">Number</text><text x="180.99" y="186.00" font-size="10.47" fill="#222" font-weight="bold" stroke="#222" stroke-width="0.35" textLength="7.42" lengthAdjust="spacingAndGlyphs">C</text><line x1="218.90" y1="196.00" x2="218.90" y2="339.20" stroke="#111" stroke-width="1.0"/><line x1="216.40" y1="339.20" x2="218.90" y2="339.20" stroke="#111" stroke-width="0.9"/><text x="209.59" y="341.95" font-size="8.14" fill="#2a2a2a" font-weight="normal" stroke="#2a2a2a" stroke-width="0.08" textLength="4.68" lengthAdjust="spacingAndGlyphs">0</text><line x1="216.40" y1="318.70" x2="218.90" y2="318.70" stroke="#111" stroke-width="0.9"/><text x="209.59" y="321.45" font-size="8.14" fill="#2a2a2a" font-weight="normal" stroke="#2a2a2a" stroke-width="0.08" textLength="4.68" lengthAdjust="spacingAndGlyphs">5</text><line x1="216.40" y1="298.20" x2="218.90" y2="298.20" stroke="#111" stroke-width="0.9"/><text x="205.24" y="300.95" font-size="8.14" fill="#2a2a2a" font-weight="normal" stroke="#2a2a2a" stroke-width="0.08" textLength="9.03" lengthAdjust="spacingAndGlyphs">10</text><line x1="216.40" y1="277.70" x2="218.90" y2="277.70" stroke="#111" stroke-width="0.9"/><text x="205.24" y="280.45" font-size="8.14" fill="#2a2a2a" font-weight="normal" stroke="#2a2a2a" stroke-width="0.08" textLength="9.03" lengthAdjust="spacingAndGlyphs">15</text><line x1="216.40" y1="257.20" x2="218.90" y2="257.20" stroke="#111" stroke-width="0.9"/><text x="205.24" y="259.95" font-size="8.14" fill="#2a2a2a" font-weight="normal" stroke="#2a2a2a" stroke-width="0.08" textLength="9.03" lengthAdjust="spacingAndGlyphs">20</text><line x1="216.40" y1="236.70" x2="218.90" y2="236.70" stroke="#111" stroke-width="0.9"/><text x="205.24" y="239.45" font-size="8.14" fill="#2a2a2a" font-weight="normal" stroke="#2a2a2a" stroke-width="0.08" textLength="9.03" lengthAdjust="spacingAndGlyphs">25</text><line x1="216.40" y1="216.20" x2="218.90" y2="216.20" stroke="#111" stroke-width="0.9"/><text x="205.24" y="218.95" font-size="8.14" fill="#2a2a2a" font-weight="normal" stroke="#2a2a2a" stroke-width="0.08" textLength="9.03" lengthAdjust="spacingAndGlyphs">30</text><line x1="216.40" y1="195.70" x2="218.90" y2="195.70" stroke="#111" stroke-width="0.9"/><text x="205.24" y="198.45" font-size="8.14" fill="#2a2a2a" font-weight="normal" stroke="#2a2a2a" stroke-width="0.08" textLength="9.03" lengthAdjust="spacingAndGlyphs">35</text><line x1="228.50" y1="349.60" x2="328.20" y2="349.60" stroke="#111" stroke-width="1.0"/><text transform="translate(202.0,270.2) rotate(-90)" text-anchor="middle" font-size="8.9" fill="#2a2a2a" stroke="#2a2a2a" stroke-width="0.08" textLength="57.5" lengthAdjust="spacingAndGlyphs">CADD score value</text><text x="230.95" y="359.30" font-size="7.41" fill="#222" font-weight="normal" stroke="#222" stroke-width="0.08" textLength="19.30" lengthAdjust="spacingAndGlyphs">N-ter</text><text x="271.15" y="359.30" font-size="7.41" fill="#222" font-weight="normal" stroke="#222" stroke-width="0.08" textLength="13.80" lengthAdjust="spacingAndGlyphs">Mid</text><text x="306.55" y="359.30" font-size="7.41" fill="#222" font-weight="normal" stroke="#222" stroke-width="0.08" textLength="18.60" lengthAdjust="spacingAndGlyphs">C-ter</text><line x1="231.30" y1="261.30" x2="251.70" y2="261.30" stroke="#222" stroke-width="1.0"/><text x="221.04" y="262.90" font-size="7.85" fill="#2a2a2a" font-weight="normal" stroke="#2a2a2a" stroke-width="0.06" textLength="8.41" lengthAdjust="spacingAndGlyphs">19</text><line x1="269.00" y1="261.30" x2="289.80" y2="261.30" stroke="#222" stroke-width="1.0"/><text x="258.74" y="262.90" font-size="7.85" fill="#2a2a2a" font-weight="normal" stroke="#2a2a2a" stroke-width="0.06" textLength="8.16" lengthAdjust="spacingAndGlyphs">19</text><line x1="307.10" y1="297.50" x2="328.30" y2="297.50" stroke="#333" stroke-width="1.0"/><text x="297.04" y="299.80" font-size="7.99" fill="#2a2a2a" font-weight="normal" stroke="#2a2a2a" stroke-width="0.06" textLength="8.12" lengthAdjust="spacingAndGlyphs">10</text><circle cx="243.40" cy="227.70" r="1.55" fill="#c20010" stroke="#300" stroke-width="0.35"/><circle cx="238.70" cy="231.20" r="1.55" fill="#0c2288" stroke="#300" stroke-width="0.35"/><circle cx="234.30" cy="238.20" r="1.55" fill="#c20010" stroke="#300" stroke-width="0.35"/><circle cx="238.70" cy="239.40" r="1.55" fill="#c20010" stroke="#300" stroke-width="0.35"/><circle cx="243.40" cy="239.90" r="1.55" fill="#c20010" stroke="#300" stroke-width="0.35"/><circle cx="247.90" cy="239.00" r="1.55" fill="#c20010" stroke="#300" stroke-width="0.35"/><circle cx="236.80" cy="248.60" r="1.55" fill="#0c2288" stroke="#300" stroke-width="0.35"/><circle cx="245.70" cy="248.60" r="1.55" fill="#c20010" stroke="#300" stroke-width="0.35"/><circle cx="241.30" cy="252.80" r="1.55" fill="#c20010" stroke="#300" stroke-width="0.35"/><circle cx="238.70" cy="257.30" r="1.55" fill="#c20010" stroke="#300" stroke-width="0.35"/><circle cx="243.40" cy="257.30" r="1.55" fill="#0c2288" stroke="#300" stroke-width="0.35"/><circle cx="236.80" cy="268.60" r="1.55" fill="#0c2288" stroke="#300" stroke-width="0.35"/><circle cx="241.30" cy="270.70" r="1.55" fill="#0c2288" stroke="#300" stroke-width="0.35"/><circle cx="246.00" cy="269.30" r="1.55" fill="#c20010" stroke="#300" stroke-width="0.35"/><circle cx="241.30" cy="275.60" r="1.55" fill="#0c2288" stroke="#300" stroke-width="0.35"/><circle cx="241.30" cy="285.50" r="1.55" fill="#0c2288" stroke="#300" stroke-width="0.35"/><circle cx="241.30" cy="290.20" r="1.55" fill="#0c2288" stroke="#300" stroke-width="0.35"/><circle cx="236.80" cy="309.50" r="1.55" fill="#c20010" stroke="#300" stroke-width="0.35"/><circle cx="245.70" cy="309.50" r="1.55" fill="#0c2288" stroke="#300" stroke-width="0.35"/><circle cx="241.30" cy="313.80" r="1.55" fill="#0c2288" stroke="#300" stroke-width="0.35"/><circle cx="241.30" cy="325.50" r="1.55" fill="#0c2288" stroke="#300" stroke-width="0.35"/><circle cx="234.30" cy="338.70" r="1.55" fill="#0c2288" stroke="#300" stroke-width="0.35"/><circle cx="238.70" cy="338.70" r="1.55" fill="#0c2288" stroke="#300" stroke-width="0.35"/><circle cx="243.40" cy="338.70" r="1.55" fill="#0c2288" stroke="#300" stroke-width="0.35"/><circle cx="247.70" cy="338.70" r="1.55" fill="#0c2288" stroke="#300" stroke-width="0.35"/><circle cx="278.20" cy="200.10" r="1.55" fill="#0c2288" stroke="#300" stroke-width="0.35"/><circle cx="278.20" cy="221.30" r="1.55" fill="#c20010" stroke="#300" stroke-width="0.35"/><circle cx="278.20" cy="233.70" r="1.55" fill="#c20010" stroke="#300" stroke-width="0.35"/><circle cx="280.60" cy="236.30" r="1.55" fill="#0c2288" stroke="#300" stroke-width="0.35"/><circle cx="275.90" cy="239.60" r="1.55" fill="#c20010" stroke="#300" stroke-width="0.35"/><circle cx="271.60" cy="244.10" r="1.55" fill="#c20010" stroke="#300" stroke-width="0.35"/><circle cx="275.90" cy="244.80" r="1.55" fill="#c20010" stroke="#300" stroke-width="0.35"/><circle cx="280.30" cy="244.80" r="1.55" fill="#c20010" stroke="#300" stroke-width="0.35"/><circle cx="282.90" cy="245.70" r="1.55" fill="#c20010" stroke="#300" stroke-width="0.35"/><circle cx="285.00" cy="248.30" r="1.55" fill="#c20010" stroke="#300" stroke-width="0.35"/><circle cx="271.60" cy="249.70" r="1.55" fill="#0c2288" stroke="#300" stroke-width="0.35"/><circle cx="275.90" cy="251.40" r="1.55" fill="#0c2288" stroke="#300" stroke-width="0.35"/><circle cx="280.30" cy="250.20" r="1.55" fill="#0c2288" stroke="#300" stroke-width="0.35"/><circle cx="278.20" cy="255.90" r="1.55" fill="#0c2288" stroke="#300" stroke-width="0.35"/><circle cx="280.60" cy="263.00" r="1.55" fill="#0c2288" stroke="#300" stroke-width="0.35"/><circle cx="275.90" cy="266.70" r="1.55" fill="#0c2288" stroke="#300" stroke-width="0.35"/><circle cx="278.20" cy="272.80" r="1.55" fill="#0c2288" stroke="#300" stroke-width="0.35"/><circle cx="278.20" cy="277.10" r="1.55" fill="#0c2288" stroke="#300" stroke-width="0.35"/><circle cx="271.60" cy="279.20" r="1.55" fill="#0c2288" stroke="#300" stroke-width="0.35"/><circle cx="275.90" cy="281.00" r="1.55" fill="#0c2288" stroke="#300" stroke-width="0.35"/><circle cx="285.00" cy="281.00" r="1.55" fill="#0c2288" stroke="#300" stroke-width="0.35"/><circle cx="280.60" cy="283.60" r="1.55" fill="#0c2288" stroke="#300" stroke-width="0.35"/><circle cx="273.80" cy="285.30" r="1.55" fill="#0c2288" stroke="#300" stroke-width="0.35"/><circle cx="282.90" cy="287.00" r="1.55" fill="#0c2288" stroke="#300" stroke-width="0.35"/><circle cx="278.20" cy="288.80" r="1.55" fill="#0c2288" stroke="#300" stroke-width="0.35"/><circle cx="278.20" cy="296.10" r="1.55" fill="#0c2288" stroke="#300" stroke-width="0.35"/><circle cx="278.00" cy="307.50" r="1.55" fill="#0c2288" stroke="#300" stroke-width="0.35"/><circle cx="278.00" cy="319.00" r="1.55" fill="#0c2288" stroke="#300" stroke-width="0.35"/><circle cx="280.50" cy="322.90" r="1.55" fill="#0c2288" stroke="#300" stroke-width="0.35"/><circle cx="276.00" cy="325.30" r="1.55" fill="#0c2288" stroke="#300" stroke-width="0.35"/><circle cx="278.00" cy="333.50" r="1.55" fill="#0c2288" stroke="#300" stroke-width="0.35"/><circle cx="276.00" cy="335.30" r="1.55" fill="#0c2288" stroke="#300" stroke-width="0.35"/><circle cx="280.10" cy="335.30" r="1.55" fill="#0c2288" stroke="#300" stroke-width="0.35"/><circle cx="270.80" cy="337.50" r="1.55" fill="#0c2288" stroke="#300" stroke-width="0.35"/><circle cx="272.60" cy="338.70" r="1.55" fill="#0c2288" stroke="#300" stroke-width="0.35"/><circle cx="274.50" cy="339.20" r="1.55" fill="#0c2288" stroke="#300" stroke-width="0.35"/><circle cx="276.40" cy="339.30" r="1.55" fill="#0c2288" stroke="#300" stroke-width="0.35"/><circle cx="278.30" cy="339.30" r="1.55" fill="#0c2288" stroke="#300" stroke-width="0.35"/><circle cx="280.20" cy="339.20" r="1.55" fill="#0c2288" stroke="#300" stroke-width="0.35"/><circle cx="282.10" cy="338.80" r="1.55" fill="#0c2288" stroke="#300" stroke-width="0.35"/><circle cx="283.90" cy="338.00" r="1.55" fill="#0c2288" stroke="#300" stroke-width="0.35"/><circle cx="285.60" cy="336.80" r="1.55" fill="#0c2288" stroke="#300" stroke-width="0.35"/><circle cx="317.70" cy="230.30" r="1.55" fill="#c20010" stroke="#300" stroke-width="0.35"/><circle cx="313.10" cy="234.20" r="1.55" fill="#c20010" stroke="#300" stroke-width="0.35"/><circle cx="315.40" cy="239.00" r="1.55" fill="#c20010" stroke="#300" stroke-width="0.35"/><circle cx="311.00" cy="242.30" r="1.55" fill="#c20010" stroke="#300" stroke-width="0.35"/><circle cx="319.70" cy="242.30" r="1.55" fill="#c20010" stroke="#300" stroke-width="0.35"/><circle cx="315.40" cy="244.60" r="1.55" fill="#c20010" stroke="#300" stroke-width="0.35"/><circle cx="308.10" cy="246.70" r="1.55" fill="#c20010" stroke="#300" stroke-width="0.35"/><circle cx="322.90" cy="245.50" r="1.55" fill="#c20010" stroke="#300" stroke-width="0.35"/><circle cx="311.90" cy="248.40" r="1.55" fill="#c20010" stroke="#300" stroke-width="0.35"/><circle cx="315.40" cy="249.80" r="1.55" fill="#c20010" stroke="#300" stroke-width="0.35"/><circle cx="318.90" cy="247.60" r="1.55" fill="#c20010" stroke="#300" stroke-width="0.35"/><circle cx="315.40" cy="256.10" r="1.55" fill="#c20010" stroke="#300" stroke-width="0.35"/><circle cx="313.30" cy="260.30" r="1.55" fill="#c20010" stroke="#300" stroke-width="0.35"/><circle cx="317.70" cy="261.30" r="1.55" fill="#c20010" stroke="#300" stroke-width="0.35"/><circle cx="317.70" cy="268.30" r="1.55" fill="#c20010" stroke="#300" stroke-width="0.35"/><circle cx="313.30" cy="271.90" r="1.55" fill="#c20010" stroke="#300" stroke-width="0.35"/><circle cx="307.60" cy="274.20" r="1.55" fill="#c20010" stroke="#300" stroke-width="0.35"/><circle cx="310.50" cy="275.90" r="1.55" fill="#c20010" stroke="#300" stroke-width="0.35"/><circle cx="314.00" cy="277.30" r="1.55" fill="#0c2288" stroke="#300" stroke-width="0.35"/><circle cx="316.80" cy="277.70" r="1.55" fill="#0c2288" stroke="#300" stroke-width="0.35"/><circle cx="320.30" cy="276.40" r="1.55" fill="#c20010" stroke="#300" stroke-width="0.35"/><circle cx="323.60" cy="274.20" r="1.55" fill="#c20010" stroke="#300" stroke-width="0.35"/><circle cx="317.70" cy="282.10" r="1.55" fill="#c20010" stroke="#300" stroke-width="0.35"/><circle cx="311.00" cy="285.70" r="1.55" fill="#c20010" stroke="#300" stroke-width="0.35"/><circle cx="313.30" cy="289.90" r="1.55" fill="#c20010" stroke="#300" stroke-width="0.35"/><circle cx="317.70" cy="293.00" r="1.55" fill="#c20010" stroke="#300" stroke-width="0.35"/><circle cx="315.40" cy="326.60" r="1.55" fill="#c20010" stroke="#300" stroke-width="0.35"/><circle cx="315.40" cy="332.20" r="1.55" fill="#c20010" stroke="#300" stroke-width="0.35"/><circle cx="308.10" cy="336.50" r="1.55" fill="#c20010" stroke="#300" stroke-width="0.35"/><circle cx="310.50" cy="338.30" r="1.55" fill="#c20010" stroke="#300" stroke-width="0.35"/><circle cx="313.00" cy="338.90" r="1.55" fill="#0c2288" stroke="#300" stroke-width="0.35"/><circle cx="315.00" cy="339.00" r="1.55" fill="#0c2288" stroke="#300" stroke-width="0.35"/><circle cx="317.00" cy="339.00" r="1.55" fill="#0c2288" stroke="#300" stroke-width="0.35"/><circle cx="319.00" cy="338.90" r="1.55" fill="#0c2288" stroke="#300" stroke-width="0.35"/><circle cx="320.60" cy="338.60" r="1.55" fill="#0c2288" stroke="#300" stroke-width="0.35"/><circle cx="322.90" cy="337.40" r="1.55" fill="#c20010" stroke="#300" stroke-width="0.35"/><circle cx="15.40" cy="104.60" r="1.45" fill="url(#gb)" stroke="#0a1550" stroke-width="0.55"/><circle cx="15.40" cy="101.28" r="1.4" fill="url(#gl)" stroke="#3a4048" stroke-width="0.6"/><circle cx="15.40" cy="97.96" r="1.4" fill="url(#gl)" stroke="#3a4048" stroke-width="0.6"/><circle cx="15.40" cy="94.64" r="1.4" fill="url(#gl)" stroke="#3a4048" stroke-width="0.6"/><circle cx="15.40" cy="91.32" r="1.45" fill="url(#gb)" stroke="#0a1550" stroke-width="0.55"/><circle cx="15.40" cy="88.01" r="1.4" fill="url(#gl)" stroke="#3a4048" stroke-width="0.6"/><circle cx="15.40" cy="84.69" r="1.4" fill="url(#gl)" stroke="#3a4048" stroke-width="0.6"/><circle cx="15.40" cy="81.37" r="1.4" fill="url(#gl)" stroke="#3a4048" stroke-width="0.6"/><circle cx="15.39" cy="78.05" r="1.45" fill="url(#gb)" stroke="#0a1550" stroke-width="0.55"/><circle cx="15.40" cy="74.73" r="1.4" fill="url(#gl)" stroke="#3a4048" stroke-width="0.6"/><circle cx="15.37" cy="71.41" r="1.4" fill="url(#gl)" stroke="#3a4048" stroke-width="0.6"/><circle cx="15.49" cy="68.10" r="1.4" fill="url(#gl)" stroke="#3a4048" stroke-width="0.6"/><circle cx="16.11" cy="64.84" r="1.4" fill="url(#gl)" stroke="#3a4048" stroke-width="0.6"/><circle cx="17.65" cy="61.92" r="1.4" fill="url(#gl)" stroke="#3a4048" stroke-width="0.6"/><circle cx="20.17" cy="59.81" r="1.4" fill="url(#gl)" stroke="#3a4048" stroke-width="0.6"/><circle cx="23.34" cy="58.87" r="1.4" fill="url(#gl)" stroke="#3a4048" stroke-width="0.6"/><circle cx="26.65" cy="58.87" r="1.4" fill="url(#gl)" stroke="#3a4048" stroke-width="0.6"/><circle cx="29.82" cy="59.81" r="1.4" fill="url(#gl)" stroke="#3a4048" stroke-width="0.6"/><circle cx="32.35" cy="61.92" r="1.4" fill="url(#gl)" stroke="#3a4048" stroke-width="0.6"/><circle cx="33.89" cy="64.83" r="1.4" fill="url(#gl)" stroke="#3a4048" stroke-width="0.6"/><circle cx="34.51" cy="68.09" r="1.4" fill="url(#gl)" stroke="#3a4048" stroke-width="0.6"/><circle cx="34.63" cy="71.40" r="1.45" fill="url(#gb)" stroke="#0a1550" stroke-width="0.55"/><circle cx="34.60" cy="74.72" r="1.4" fill="url(#gl)" stroke="#3a4048" stroke-width="0.6"/><circle cx="34.61" cy="78.04" r="1.4" fill="url(#gl)" stroke="#3a4048" stroke-width="0.6"/><circle cx="34.60" cy="81.36" r="1.45" fill="url(#gb)" stroke="#0a1550" stroke-width="0.55"/><circle cx="34.60" cy="84.68" r="1.4" fill="url(#gl)" stroke="#3a4048" stroke-width="0.6"/><circle cx="34.60" cy="88.00" r="1.4" fill="url(#gl)" stroke="#3a4048" stroke-width="0.6"/><circle cx="34.60" cy="91.31" r="1.4" fill="url(#gl)" stroke="#3a4048" stroke-width="0.6"/><circle cx="34.60" cy="94.63" r="1.4" fill="url(#gl)" stroke="#3a4048" stroke-width="0.6"/><circle cx="34.60" cy="97.95" r="1.45" fill="url(#gb)" stroke="#0a1550" stroke-width="0.55"/><circle cx="34.60" cy="101.27" r="1.4" fill="url(#gl)" stroke="#3a4048" stroke-width="0.6"/><circle cx="34.60" cy="104.59" r="1.45" fill="url(#gb)" stroke="#0a1550" stroke-width="0.55"/><circle cx="34.59" cy="107.97" r="1.4" fill="url(#gl)" stroke="#3a4048" stroke-width="0.6"/><circle cx="34.45" cy="111.34" r="1.4" fill="url(#gl)" stroke="#3a4048" stroke-width="0.6"/><circle cx="34.17" cy="114.69" r="1.45" fill="url(#gb)" stroke="#0a1550" stroke-width="0.55"/><circle cx="33.26" cy="117.93" r="1.45" fill="url(#gb)" stroke="#0a1550" stroke-width="0.55"/><circle cx="31.40" cy="120.71" r="1.45" fill="url(#go)" stroke="#7a4a05" stroke-width="0.55"/><circle cx="28.70" cy="122.71" r="1.45" fill="url(#go)" stroke="#7a4a05" stroke-width="0.55"/><circle cx="25.43" cy="123.23" r="1.45" fill="url(#go)" stroke="#7a4a05" stroke-width="0.55"/><circle cx="22.35" cy="121.92" r="1.45" fill="url(#gb)" stroke="#0a1550" stroke-width="0.55"/><circle cx="19.76" cy="119.78" r="1.45" fill="url(#go)" stroke="#7a4a05" stroke-width="0.55"/><circle cx="17.82" cy="117.04" r="1.4" fill="url(#gl)" stroke="#3a4048" stroke-width="0.6"/><circle cx="17.11" cy="113.77" r="1.4" fill="url(#gl)" stroke="#3a4048" stroke-width="0.6"/><circle cx="17.32" cy="110.41" r="1.4" fill="url(#gl)" stroke="#3a4048" stroke-width="0.6"/><circle cx="18.62" cy="107.33" r="1.4" fill="url(#gl)" stroke="#3a4048" stroke-width="0.6"/><circle cx="20.60" cy="104.60" r="1.45" fill="url(#gb)" stroke="#0a1550" stroke-width="0.55"/><circle cx="21.50" cy="101.53" r="1.4" fill="url(#gl)" stroke="#3a4048" stroke-width="0.6"/><circle cx="22.45" cy="98.49" r="1.4" fill="url(#gl)" stroke="#3a4048" stroke-width="0.6"/><circle cx="23.53" cy="95.48" r="1.45" fill="url(#gb)" stroke="#0a1550" stroke-width="0.55"/><circle cx="24.83" cy="92.57" r="1.4" fill="url(#gl)" stroke="#3a4048" stroke-width="0.6"/><circle cx="26.58" cy="89.90" r="1.45" fill="url(#gb)" stroke="#0a1550" stroke-width="0.55"/><circle cx="28.94" cy="87.75" r="1.4" fill="url(#gl)" stroke="#3a4048" stroke-width="0.6"/><circle cx="31.77" cy="86.29" r="1.4" fill="url(#gl)" stroke="#3a4048" stroke-width="0.6"/><circle cx="34.86" cy="85.60" r="1.4" fill="url(#gl)" stroke="#3a4048" stroke-width="0.6"/><circle cx="37.88" cy="86.53" r="1.4" fill="url(#gl)" stroke="#3a4048" stroke-width="0.6"/><circle cx="40.09" cy="88.80" r="1.4" fill="url(#gl)" stroke="#3a4048" stroke-width="0.6"/><circle cx="40.97" cy="91.84" r="1.45" fill="url(#gb)" stroke="#0a1550" stroke-width="0.55"/><circle cx="41.15" cy="95.03" r="1.4" fill="url(#gl)" stroke="#3a4048" stroke-width="0.6"/><circle cx="41.11" cy="98.22" r="1.45" fill="url(#go)" stroke="#7a4a05" stroke-width="0.55"/><circle cx="41.21" cy="101.41" r="1.45" fill="url(#go)" stroke="#7a4a05" stroke-width="0.55"/><circle cx="41.50" cy="104.60" r="1.45" fill="url(#gb)" stroke="#0a1550" stroke-width="0.55"/><circle cx="68.90" cy="104.75" r="1.45" fill="url(#gb)" stroke="#0a1550" stroke-width="0.55"/><circle cx="68.90" cy="101.49" r="1.45" fill="url(#go)" stroke="#7a4a05" stroke-width="0.55"/><circle cx="68.90" cy="98.24" r="1.45" fill="url(#go)" stroke="#7a4a05" stroke-width="0.55"/><circle cx="68.90" cy="94.98" r="1.45" fill="url(#gb)" stroke="#0a1550" stroke-width="0.55"/><circle cx="68.90" cy="91.72" r="1.45" fill="url(#go)" stroke="#7a4a05" stroke-width="0.55"/><circle cx="68.90" cy="88.46" r="1.45" fill="url(#go)" stroke="#7a4a05" stroke-width="0.55"/><circle cx="68.90" cy="85.21" r="1.4" fill="url(#gl)" stroke="#3a4048" stroke-width="0.6"/><circle cx="68.89" cy="81.95" r="1.4" fill="url(#gl)" stroke="#3a4048" stroke-width="0.6"/><circle cx="68.89" cy="78.69" r="1.45" fill="url(#go)" stroke="#7a4a05" stroke-width="0.55"/><circle cx="68.90" cy="75.44" r="1.45" fill="url(#gb)" stroke="#0a1550" stroke-width="0.55"/><circle cx="68.88" cy="72.18" r="1.45" fill="url(#go)" stroke="#7a4a05" stroke-width="0.55"/><circle cx="69.21" cy="68.94" r="1.45" fill="url(#go)" stroke="#7a4a05" stroke-width="0.55"/><circle cx="70.25" cy="65.87" r="1.45" fill="url(#go)" stroke="#7a4a05" stroke-width="0.55"/><circle cx="72.36" cy="63.42" r="1.45" fill="url(#go)" stroke="#7a4a05" stroke-width="0.55"/><circle cx="75.27" cy="62.03" r="1.4" fill="url(#gl)" stroke="#3a4048" stroke-width="0.6"/><circle cx="78.50" cy="61.60" r="1.4" fill="url(#gl)" stroke="#3a4048" stroke-width="0.6"/><circle cx="81.72" cy="62.02" r="1.4" fill="url(#gl)" stroke="#3a4048" stroke-width="0.6"/><circle cx="84.64" cy="63.41" r="1.4" fill="url(#gl)" stroke="#3a4048" stroke-width="0.6"/><circle cx="86.74" cy="65.87" r="1.45" fill="url(#go)" stroke="#7a4a05" stroke-width="0.55"/><circle cx="87.79" cy="68.93" r="1.45" fill="url(#go)" stroke="#7a4a05" stroke-width="0.55"/><circle cx="88.12" cy="72.17" r="1.45" fill="url(#go)" stroke="#7a4a05" stroke-width="0.55"/><circle cx="88.10" cy="75.43" r="1.4" fill="url(#gl)" stroke="#3a4048" stroke-width="0.6"/><circle cx="88.11" cy="78.68" r="1.4" fill="url(#gl)" stroke="#3a4048" stroke-width="0.6"/><circle cx="88.11" cy="81.94" r="1.45" fill="url(#gb)" stroke="#0a1550" stroke-width="0.55"/><circle cx="88.10" cy="85.20" r="1.4" fill="url(#gl)" stroke="#3a4048" stroke-width="0.6"/><circle cx="88.10" cy="88.45" r="1.4" fill="url(#gl)" stroke="#3a4048" stroke-width="0.6"/><circle cx="88.10" cy="91.71" r="1.4" fill="url(#gl)" stroke="#3a4048" stroke-width="0.6"/><circle cx="88.10" cy="94.97" r="1.4" fill="url(#gl)" stroke="#3a4048" stroke-width="0.6"/><circle cx="88.10" cy="98.23" r="1.45" fill="url(#gb)" stroke="#0a1550" stroke-width="0.55"/><circle cx="88.10" cy="101.48" r="1.4" fill="url(#gl)" stroke="#3a4048" stroke-width="0.6"/><circle cx="88.10" cy="104.74" r="1.45" fill="url(#gb)" stroke="#0a1550" stroke-width="0.55"/><circle cx="88.09" cy="108.10" r="1.45" fill="url(#go)" stroke="#7a4a05" stroke-width="0.55"/><circle cx="87.95" cy="111.45" r="1.45" fill="url(#go)" stroke="#7a4a05" stroke-width="0.55"/><circle cx="87.66" cy="114.79" r="1.45" fill="url(#gb)" stroke="#0a1550" stroke-width="0.55"/><circle cx="86.75" cy="118.00" r="1.45" fill="url(#gb)" stroke="#0a1550" stroke-width="0.55"/><circle cx="84.87" cy="120.76" r="1.4" fill="url(#gl)" stroke="#3a4048" stroke-width="0.6"/><circle cx="82.18" cy="122.72" r="1.4" fill="url(#gl)" stroke="#3a4048" stroke-width="0.6"/><circle cx="78.92" cy="123.23" r="1.45" fill="url(#go)" stroke="#7a4a05" stroke-width="0.55"/><circle cx="75.86" cy="121.94" r="1.45" fill="url(#gb)" stroke="#0a1550" stroke-width="0.55"/><circle cx="73.27" cy="119.82" r="1.4" fill="url(#gl)" stroke="#3a4048" stroke-width="0.6"/><circle cx="71.33" cy="117.11" r="1.4" fill="url(#gl)" stroke="#3a4048" stroke-width="0.6"/><circle cx="70.62" cy="113.86" r="1.4" fill="url(#gl)" stroke="#3a4048" stroke-width="0.6"/><circle cx="70.82" cy="110.52" r="1.4" fill="url(#gl)" stroke="#3a4048" stroke-width="0.6"/><circle cx="72.12" cy="107.46" r="1.4" fill="url(#gl)" stroke="#3a4048" stroke-width="0.6"/><circle cx="74.10" cy="104.75" r="1.45" fill="url(#gb)" stroke="#0a1550" stroke-width="0.55"/><circle cx="75.19" cy="101.65" r="1.4" fill="url(#gl)" stroke="#3a4048" stroke-width="0.6"/><circle cx="76.38" cy="98.59" r="1.4" fill="url(#gl)" stroke="#3a4048" stroke-width="0.6"/><circle cx="77.74" cy="95.60" r="1.4" fill="url(#gl)" stroke="#3a4048" stroke-width="0.6"/><circle cx="79.60" cy="92.91" r="1.45" fill="url(#gb)" stroke="#0a1550" stroke-width="0.55"/><circle cx="82.08" cy="90.77" r="1.45" fill="url(#gb)" stroke="#0a1550" stroke-width="0.55"/><circle cx="85.05" cy="89.40" r="1.4" fill="url(#gl)" stroke="#3a4048" stroke-width="0.6"/><circle cx="88.26" cy="88.75" r="1.4" fill="url(#gl)" stroke="#3a4048" stroke-width="0.6"/><circle cx="91.41" cy="89.55" r="1.45" fill="url(#go)" stroke="#7a4a05" stroke-width="0.55"/><circle cx="93.79" cy="91.76" r="1.45" fill="url(#go)" stroke="#7a4a05" stroke-width="0.55"/><circle cx="94.59" cy="94.92" r="1.45" fill="url(#go)" stroke="#7a4a05" stroke-width="0.55"/><circle cx="94.60" cy="98.20" r="1.45" fill="url(#gb)" stroke="#0a1550" stroke-width="0.55"/><circle cx="94.68" cy="101.48" r="1.45" fill="url(#go)" stroke="#7a4a05" stroke-width="0.55"/><circle cx="95.00" cy="104.75" r="1.45" fill="url(#gb)" stroke="#0a1550" stroke-width="0.55"/><circle cx="122.40" cy="104.75" r="1.45" fill="url(#gb)" stroke="#0a1550" stroke-width="0.55"/><circle cx="122.40" cy="101.44" r="1.45" fill="url(#go)" stroke="#7a4a05" stroke-width="0.55"/><circle cx="122.40" cy="98.13" r="1.45" fill="url(#gb)" stroke="#0a1550" stroke-width="0.55"/><circle cx="122.40" cy="94.82" r="1.4" fill="url(#gl)" stroke="#3a4048" stroke-width="0.6"/><circle cx="122.40" cy="91.51" r="1.4" fill="url(#gl)" stroke="#3a4048" stroke-width="0.6"/><circle cx="122.40" cy="88.20" r="1.4" fill="url(#gl)" stroke="#3a4048" stroke-width="0.6"/><circle cx="122.40" cy="84.89" r="1.4" fill="url(#gl)" stroke="#3a4048" stroke-width="0.6"/><circle cx="122.40" cy="81.58" r="1.4" fill="url(#gl)" stroke="#3a4048" stroke-width="0.6"/><circle cx="122.39" cy="78.27" r="1.45" fill="url(#gb)" stroke="#0a1550" stroke-width="0.55"/><circle cx="122.39" cy="74.96" r="1.45" fill="url(#gb)" stroke="#0a1550" stroke-width="0.55"/><circle cx="122.40" cy="71.65" r="1.45" fill="url(#go)" stroke="#7a4a05" stroke-width="0.55"/><circle cx="122.37" cy="68.34" r="1.4" fill="url(#gl)" stroke="#3a4048" stroke-width="0.6"/><circle cx="122.56" cy="65.04" r="1.45" fill="url(#go)" stroke="#7a4a05" stroke-width="0.55"/><circle cx="123.21" cy="61.80" r="1.45" fill="url(#go)" stroke="#7a4a05" stroke-width="0.55"/><circle cx="124.74" cy="58.89" r="1.45" fill="url(#go)" stroke="#7a4a05" stroke-width="0.55"/><circle cx="127.20" cy="56.72" r="1.45" fill="url(#go)" stroke="#7a4a05" stroke-width="0.55"/><circle cx="130.35" cy="55.73" r="1.45" fill="url(#go)" stroke="#7a4a05" stroke-width="0.55"/><circle cx="133.64" cy="55.73" r="1.45" fill="url(#go)" stroke="#7a4a05" stroke-width="0.55"/><circle cx="136.79" cy="56.71" r="1.4" fill="url(#gl)" stroke="#3a4048" stroke-width="0.6"/><circle cx="139.26" cy="58.88" r="1.45" fill="url(#go)" stroke="#7a4a05" stroke-width="0.55"/><circle cx="140.79" cy="61.79" r="1.4" fill="url(#gl)" stroke="#3a4048" stroke-width="0.6"/><circle cx="141.44" cy="65.03" r="1.4" fill="url(#gl)" stroke="#3a4048" stroke-width="0.6"/><circle cx="141.63" cy="68.33" r="1.4" fill="url(#gl)" stroke="#3a4048" stroke-width="0.6"/><circle cx="141.60" cy="71.64" r="1.45" fill="url(#gb)" stroke="#0a1550" stroke-width="0.55"/><circle cx="141.61" cy="74.95" r="1.45" fill="url(#go)" stroke="#7a4a05" stroke-width="0.55"/><circle cx="141.61" cy="78.26" r="1.45" fill="url(#go)" stroke="#7a4a05" stroke-width="0.55"/><circle cx="141.60" cy="81.57" r="1.45" fill="url(#gb)" stroke="#0a1550" stroke-width="0.55"/><circle cx="141.60" cy="84.88" r="1.45" fill="url(#go)" stroke="#7a4a05" stroke-width="0.55"/><circle cx="141.60" cy="88.19" r="1.45" fill="url(#go)" stroke="#7a4a05" stroke-width="0.55"/><circle cx="141.60" cy="91.50" r="1.4" fill="url(#gl)" stroke="#3a4048" stroke-width="0.6"/><circle cx="141.60" cy="94.81" r="1.45" fill="url(#go)" stroke="#7a4a05" stroke-width="0.55"/><circle cx="141.60" cy="98.12" r="1.45" fill="url(#gb)" stroke="#0a1550" stroke-width="0.55"/><circle cx="141.60" cy="101.43" r="1.4" fill="url(#gl)" stroke="#3a4048" stroke-width="0.6"/><circle cx="141.60" cy="104.74" r="1.45" fill="url(#gb)" stroke="#0a1550" stroke-width="0.55"/><circle cx="141.59" cy="108.09" r="1.4" fill="url(#gl)" stroke="#3a4048" stroke-width="0.6"/><circle cx="141.45" cy="111.42" r="1.4" fill="url(#gl)" stroke="#3a4048" stroke-width="0.6"/><circle cx="141.16" cy="114.75" r="1.45" fill="url(#gb)" stroke="#0a1550" stroke-width="0.55"/><circle cx="140.24" cy="117.95" r="1.45" fill="url(#gb)" stroke="#0a1550" stroke-width="0.55"/><circle cx="138.36" cy="120.69" r="1.4" fill="url(#gl)" stroke="#3a4048" stroke-width="0.6"/><circle cx="135.67" cy="122.63" r="1.45" fill="url(#go)" stroke="#7a4a05" stroke-width="0.55"/><circle cx="132.42" cy="123.13" r="1.4" fill="url(#gl)" stroke="#3a4048" stroke-width="0.6"/><circle cx="129.36" cy="121.85" r="1.45" fill="url(#gb)" stroke="#0a1550" stroke-width="0.55"/><circle cx="126.78" cy="119.75" r="1.4" fill="url(#gl)" stroke="#3a4048" stroke-width="0.6"/><circle cx="124.83" cy="117.05" r="1.45" fill="url(#go)" stroke="#7a4a05" stroke-width="0.55"/><circle cx="124.12" cy="113.82" r="1.45" fill="url(#go)" stroke="#7a4a05" stroke-width="0.55"/><circle cx="124.32" cy="110.49" r="1.4" fill="url(#gl)" stroke="#3a4048" stroke-width="0.6"/><circle cx="125.62" cy="107.45" r="1.45" fill="url(#go)" stroke="#7a4a05" stroke-width="0.55"/><circle cx="127.60" cy="104.75" r="1.45" fill="url(#gb)" stroke="#0a1550" stroke-width="0.55"/><circle cx="128.59" cy="101.70" r="1.45" fill="url(#go)" stroke="#7a4a05" stroke-width="0.55"/><circle cx="129.65" cy="98.68" r="1.4" fill="url(#gl)" stroke="#3a4048" stroke-width="0.6"/><circle cx="130.85" cy="95.71" r="1.4" fill="url(#gl)" stroke="#3a4048" stroke-width="0.6"/><circle cx="132.41" cy="92.92" r="1.45" fill="url(#gb)" stroke="#0a1550" stroke-width="0.55"/><circle cx="134.50" cy="90.50" r="1.45" fill="url(#go)" stroke="#7a4a05" stroke-width="0.55"/><circle cx="137.19" cy="88.78" r="1.45" fill="url(#gb)" stroke="#0a1550" stroke-width="0.55"/><circle cx="140.20" cy="87.70" r="1.4" fill="url(#gl)" stroke="#3a4048" stroke-width="0.6"/><circle cx="143.37" cy="87.73" r="1.4" fill="url(#gl)" stroke="#3a4048" stroke-width="0.6"/><circle cx="146.14" cy="89.26" r="1.4" fill="url(#gl)" stroke="#3a4048" stroke-width="0.6"/><circle cx="147.75" cy="91.98" r="1.4" fill="url(#gl)" stroke="#3a4048" stroke-width="0.6"/><circle cx="148.15" cy="95.15" r="1.4" fill="url(#gl)" stroke="#3a4048" stroke-width="0.6"/><circle cx="148.10" cy="98.35" r="1.45" fill="url(#gb)" stroke="#0a1550" stroke-width="0.55"/><circle cx="148.19" cy="101.56" r="1.4" fill="url(#gl)" stroke="#3a4048" stroke-width="0.6"/><circle cx="148.50" cy="104.75" r="1.45" fill="url(#gb)" stroke="#0a1550" stroke-width="0.55"/><circle cx="177.40" cy="104.60" r="1.45" fill="url(#gb)" stroke="#0a1550" stroke-width="0.55"/><circle cx="177.40" cy="101.35" r="1.4" fill="url(#gl)" stroke="#3a4048" stroke-width="0.6"/><circle cx="177.40" cy="98.10" r="1.4" fill="url(#gl)" stroke="#3a4048" stroke-width="0.6"/><circle cx="177.40" cy="94.86" r="1.45" fill="url(#gb)" stroke="#0a1550" stroke-width="0.55"/><circle cx="177.40" cy="91.61" r="1.4" fill="url(#gl)" stroke="#3a4048" stroke-width="0.6"/><circle cx="177.40" cy="88.36" r="1.4" fill="url(#gl)" stroke="#3a4048" stroke-width="0.6"/><circle cx="177.40" cy="85.11" r="1.4" fill="url(#gl)" stroke="#3a4048" stroke-width="0.6"/><circle cx="177.39" cy="81.87" r="1.45" fill="url(#gb)" stroke="#0a1550" stroke-width="0.55"/><circle cx="177.40" cy="78.62" r="1.45" fill="url(#gb)" stroke="#0a1550" stroke-width="0.55"/><circle cx="177.37" cy="75.37" r="1.4" fill="url(#gl)" stroke="#3a4048" stroke-width="0.6"/><circle cx="177.63" cy="72.14" r="1.4" fill="url(#gl)" stroke="#3a4048" stroke-width="0.6"/><circle cx="178.66" cy="69.08" r="1.45" fill="url(#go)" stroke="#7a4a05" stroke-width="0.55"/><circle cx="180.83" cy="66.69" r="1.45" fill="url(#go)" stroke="#7a4a05" stroke-width="0.55"/><circle cx="183.78" cy="65.39" r="1.45" fill="url(#go)" stroke="#7a4a05" stroke-width="0.55"/><circle cx="187.00" cy="65.00" r="1.45" fill="url(#go)" stroke="#7a4a05" stroke-width="0.55"/><circle cx="190.21" cy="65.39" r="1.4" fill="url(#gl)" stroke="#3a4048" stroke-width="0.6"/><circle cx="193.17" cy="66.68" r="1.4" fill="url(#gl)" stroke="#3a4048" stroke-width="0.6"/><circle cx="195.34" cy="69.07" r="1.4" fill="url(#gl)" stroke="#3a4048" stroke-width="0.6"/><circle cx="196.37" cy="72.13" r="1.45" fill="url(#gb)" stroke="#0a1550" stroke-width="0.55"/><circle cx="196.63" cy="75.36" r="1.4" fill="url(#gl)" stroke="#3a4048" stroke-width="0.6"/><circle cx="196.60" cy="78.61" r="1.4" fill="url(#gl)" stroke="#3a4048" stroke-width="0.6"/><circle cx="196.61" cy="81.86" r="1.45" fill="url(#go)" stroke="#7a4a05" stroke-width="0.55"/><circle cx="196.60" cy="85.10" r="1.45" fill="url(#go)" stroke="#7a4a05" stroke-width="0.55"/><circle cx="196.60" cy="88.35" r="1.45" fill="url(#go)" stroke="#7a4a05" stroke-width="0.55"/><circle cx="196.60" cy="91.60" r="1.4" fill="url(#gl)" stroke="#3a4048" stroke-width="0.6"/><circle cx="196.60" cy="94.85" r="1.45" fill="url(#go)" stroke="#7a4a05" stroke-width="0.55"/><circle cx="196.60" cy="98.10" r="1.45" fill="url(#gb)" stroke="#0a1550" stroke-width="0.55"/><circle cx="196.60" cy="101.34" r="1.45" fill="url(#go)" stroke="#7a4a05" stroke-width="0.55"/><circle cx="196.60" cy="104.59" r="1.45" fill="url(#gb)" stroke="#0a1550" stroke-width="0.55"/><circle cx="196.59" cy="107.77" r="1.4" fill="url(#gl)" stroke="#3a4048" stroke-width="0.6"/><circle cx="196.48" cy="110.95" r="1.4" fill="url(#gl)" stroke="#3a4048" stroke-width="0.6"/><circle cx="196.25" cy="114.11" r="1.45" fill="url(#gb)" stroke="#0a1550" stroke-width="0.55"/><circle cx="195.62" cy="117.21" r="1.45" fill="url(#gb)" stroke="#0a1550" stroke-width="0.55"/><circle cx="194.14" cy="120.01" r="1.4" fill="url(#gl)" stroke="#3a4048" stroke-width="0.6"/><circle cx="191.90" cy="122.23" r="1.45" fill="url(#go)" stroke="#7a4a05" stroke-width="0.55"/><circle cx="189.02" cy="123.49" r="1.4" fill="url(#gl)" stroke="#3a4048" stroke-width="0.6"/><circle cx="185.92" cy="123.02" r="1.45" fill="url(#go)" stroke="#7a4a05" stroke-width="0.55"/><circle cx="183.23" cy="121.35" r="1.45" fill="url(#go)" stroke="#7a4a05" stroke-width="0.55"/><circle cx="181.01" cy="119.10" r="1.4" fill="url(#gl)" stroke="#3a4048" stroke-width="0.6"/><circle cx="179.49" cy="116.33" r="1.45" fill="url(#go)" stroke="#7a4a05" stroke-width="0.55"/><circle cx="179.10" cy="113.19" r="1.45" fill="url(#go)" stroke="#7a4a05" stroke-width="0.55"/><circle cx="179.42" cy="110.04" r="1.4" fill="url(#gl)" stroke="#3a4048" stroke-width="0.6"/><circle cx="180.75" cy="107.18" r="1.45" fill="url(#go)" stroke="#7a4a05" stroke-width="0.55"/><circle cx="182.60" cy="104.60" r="1.45" fill="url(#gb)" stroke="#0a1550" stroke-width="0.55"/><circle cx="183.96" cy="101.46" r="1.45" fill="url(#go)" stroke="#7a4a05" stroke-width="0.55"/><circle cx="185.50" cy="98.41" r="1.45" fill="url(#go)" stroke="#7a4a05" stroke-width="0.55"/><circle cx="187.47" cy="95.62" r="1.4" fill="url(#gl)" stroke="#3a4048" stroke-width="0.6"/><circle cx="190.12" cy="93.49" r="1.45" fill="url(#gb)" stroke="#0a1550" stroke-width="0.55"/><circle cx="193.28" cy="92.21" r="1.45" fill="url(#gb)" stroke="#0a1550" stroke-width="0.55"/><circle cx="196.64" cy="91.60" r="1.4" fill="url(#gl)" stroke="#3a4048" stroke-width="0.6"/><circle cx="199.97" cy="92.27" r="1.45" fill="url(#go)" stroke="#7a4a05" stroke-width="0.55"/><circle cx="202.53" cy="94.44" r="1.45" fill="url(#go)" stroke="#7a4a05" stroke-width="0.55"/><circle cx="203.15" cy="97.78" r="1.45" fill="url(#gb)" stroke="#0a1550" stroke-width="0.55"/><circle cx="203.14" cy="101.20" r="1.4" fill="url(#gl)" stroke="#3a4048" stroke-width="0.6"/><circle cx="203.50" cy="104.60" r="1.45" fill="url(#gb)" stroke="#0a1550" stroke-width="0.55"/><circle cx="280.40" cy="100.25" r="1.45" fill="url(#gb)" stroke="#0a1550" stroke-width="0.55"/><circle cx="280.40" cy="96.95" r="1.4" fill="url(#gl)" stroke="#3a4048" stroke-width="0.6"/><circle cx="280.40" cy="93.65" r="1.4" fill="url(#gl)" stroke="#3a4048" stroke-width="0.6"/><circle cx="280.40" cy="90.35" r="1.45" fill="url(#gb)" stroke="#0a1550" stroke-width="0.55"/><circle cx="280.40" cy="87.05" r="1.4" fill="url(#gl)" stroke="#3a4048" stroke-width="0.6"/><circle cx="280.40" cy="83.75" r="1.4" fill="url(#gl)" stroke="#3a4048" stroke-width="0.6"/><circle cx="280.40" cy="80.44" r="1.4" fill="url(#gl)" stroke="#3a4048" stroke-width="0.6"/><circle cx="280.40" cy="77.14" r="1.4" fill="url(#gl)" stroke="#3a4048" stroke-width="0.6"/><circle cx="280.39" cy="73.84" r="1.45" fill="url(#gb)" stroke="#0a1550" stroke-width="0.55"/><circle cx="280.39" cy="70.54" r="1.45" fill="url(#gb)" stroke="#0a1550" stroke-width="0.55"/><circle cx="280.40" cy="67.24" r="1.4" fill="url(#gl)" stroke="#3a4048" stroke-width="0.6"/><circle cx="280.37" cy="63.94" r="1.4" fill="url(#gl)" stroke="#3a4048" stroke-width="0.6"/><circle cx="280.56" cy="60.65" r="1.4" fill="url(#gl)" stroke="#3a4048" stroke-width="0.6"/><circle cx="281.21" cy="57.42" r="1.4" fill="url(#gl)" stroke="#3a4048" stroke-width="0.6"/><circle cx="282.75" cy="54.51" r="1.4" fill="url(#gl)" stroke="#3a4048" stroke-width="0.6"/><circle cx="285.21" cy="52.36" r="1.4" fill="url(#gl)" stroke="#3a4048" stroke-width="0.6"/><circle cx="288.35" cy="51.38" r="1.4" fill="url(#gl)" stroke="#3a4048" stroke-width="0.6"/><circle cx="291.64" cy="51.38" r="1.4" fill="url(#gl)" stroke="#3a4048" stroke-width="0.6"/><circle cx="294.78" cy="52.36" r="1.4" fill="url(#gl)" stroke="#3a4048" stroke-width="0.6"/><circle cx="297.25" cy="54.50" r="1.4" fill="url(#gl)" stroke="#3a4048" stroke-width="0.6"/><circle cx="298.78" cy="57.41" r="1.4" fill="url(#gl)" stroke="#3a4048" stroke-width="0.6"/><circle cx="299.44" cy="60.64" r="1.4" fill="url(#gl)" stroke="#3a4048" stroke-width="0.6"/><circle cx="299.63" cy="63.93" r="1.4" fill="url(#gl)" stroke="#3a4048" stroke-width="0.6"/><circle cx="299.60" cy="67.23" r="1.45" fill="url(#gb)" stroke="#0a1550" stroke-width="0.55"/><circle cx="299.61" cy="70.53" r="1.4" fill="url(#gl)" stroke="#3a4048" stroke-width="0.6"/><circle cx="299.61" cy="73.83" r="1.4" fill="url(#gl)" stroke="#3a4048" stroke-width="0.6"/><circle cx="299.60" cy="77.13" r="1.45" fill="url(#gb)" stroke="#0a1550" stroke-width="0.55"/><circle cx="299.60" cy="80.43" r="1.4" fill="url(#gl)" stroke="#3a4048" stroke-width="0.6"/><circle cx="299.60" cy="83.73" r="1.4" fill="url(#gl)" stroke="#3a4048" stroke-width="0.6"/><circle cx="299.60" cy="87.04" r="1.4" fill="url(#gl)" stroke="#3a4048" stroke-width="0.6"/><circle cx="299.60" cy="90.34" r="1.4" fill="url(#gl)" stroke="#3a4048" stroke-width="0.6"/><circle cx="299.60" cy="93.64" r="1.45" fill="url(#gb)" stroke="#0a1550" stroke-width="0.55"/><circle cx="299.60" cy="96.94" r="1.4" fill="url(#gl)" stroke="#3a4048" stroke-width="0.6"/><circle cx="299.60" cy="100.24" r="1.45" fill="url(#gb)" stroke="#0a1550" stroke-width="0.55"/><circle cx="299.59" cy="103.59" r="1.4" fill="url(#gl)" stroke="#3a4048" stroke-width="0.6"/><circle cx="299.52" cy="106.93" r="1.4" fill="url(#gl)" stroke="#3a4048" stroke-width="0.6"/><circle cx="299.34" cy="110.27" r="1.45" fill="url(#gb)" stroke="#0a1550" stroke-width="0.55"/><circle cx="298.97" cy="113.59" r="1.45" fill="url(#gb)" stroke="#0a1550" stroke-width="0.55"/><circle cx="297.99" cy="116.77" r="1.4" fill="url(#gl)" stroke="#3a4048" stroke-width="0.6"/><circle cx="296.25" cy="119.62" r="1.4" fill="url(#gl)" stroke="#3a4048" stroke-width="0.6"/><circle cx="293.73" cy="121.79" r="1.4" fill="url(#gl)" stroke="#3a4048" stroke-width="0.6"/><circle cx="290.53" cy="122.45" r="1.45" fill="url(#gb)" stroke="#0a1550" stroke-width="0.55"/><circle cx="287.54" cy="121.02" r="1.4" fill="url(#gl)" stroke="#3a4048" stroke-width="0.6"/><circle cx="285.10" cy="118.74" r="1.4" fill="url(#gl)" stroke="#3a4048" stroke-width="0.6"/><circle cx="283.24" cy="115.98" r="1.4" fill="url(#gl)" stroke="#3a4048" stroke-width="0.6"/><circle cx="282.25" cy="112.80" r="1.4" fill="url(#gl)" stroke="#3a4048" stroke-width="0.6"/><circle cx="282.11" cy="109.47" r="1.4" fill="url(#gl)" stroke="#3a4048" stroke-width="0.6"/><circle cx="282.53" cy="106.16" r="1.4" fill="url(#gl)" stroke="#3a4048" stroke-width="0.6"/><circle cx="283.85" cy="103.10" r="1.4" fill="url(#gl)" stroke="#3a4048" stroke-width="0.6"/><circle cx="285.60" cy="100.25" r="1.45" fill="url(#gb)" stroke="#0a1550" stroke-width="0.55"/><circle cx="286.48" cy="97.03" r="1.4" fill="url(#gl)" stroke="#3a4048" stroke-width="0.6"/><circle cx="287.43" cy="93.82" r="1.4" fill="url(#gl)" stroke="#3a4048" stroke-width="0.6"/><circle cx="288.49" cy="90.65" r="1.4" fill="url(#gl)" stroke="#3a4048" stroke-width="0.6"/><circle cx="289.76" cy="87.57" r="1.45" fill="url(#gb)" stroke="#0a1550" stroke-width="0.55"/><circle cx="291.49" cy="84.71" r="1.4" fill="url(#gl)" stroke="#3a4048" stroke-width="0.6"/><circle cx="293.85" cy="82.36" r="1.45" fill="url(#gb)" stroke="#0a1550" stroke-width="0.55"/><circle cx="296.76" cy="80.73" r="1.4" fill="url(#gl)" stroke="#3a4048" stroke-width="0.6"/><circle cx="299.99" cy="80.01" r="1.4" fill="url(#gl)" stroke="#3a4048" stroke-width="0.6"/><circle cx="303.09" cy="81.13" r="1.4" fill="url(#gl)" stroke="#3a4048" stroke-width="0.6"/><circle cx="305.22" cy="83.67" r="1.4" fill="url(#gl)" stroke="#3a4048" stroke-width="0.6"/><circle cx="306.00" cy="86.90" r="1.45" fill="url(#gb)" stroke="#0a1550" stroke-width="0.55"/><circle cx="306.14" cy="90.23" r="1.4" fill="url(#gl)" stroke="#3a4048" stroke-width="0.6"/><circle cx="306.11" cy="93.57" r="1.4" fill="url(#gl)" stroke="#3a4048" stroke-width="0.6"/><circle cx="306.22" cy="96.92" r="1.4" fill="url(#gl)" stroke="#3a4048" stroke-width="0.6"/><circle cx="306.50" cy="100.25" r="1.45" fill="url(#gb)" stroke="#0a1550" stroke-width="0.55"/><circle cx="391.40" cy="105.30" r="1.45" fill="url(#gb)" stroke="#0a1550" stroke-width="0.55"/><circle cx="391.40" cy="102.03" r="1.4" fill="url(#gl)" stroke="#3a4048" stroke-width="0.6"/><circle cx="391.40" cy="98.75" r="1.4" fill="url(#gl)" stroke="#3a4048" stroke-width="0.6"/><circle cx="391.40" cy="95.48" r="1.45" fill="url(#gb)" stroke="#0a1550" stroke-width="0.55"/><circle cx="391.40" cy="92.21" r="1.4" fill="url(#gl)" stroke="#3a4048" stroke-width="0.6"/><circle cx="391.40" cy="88.93" r="1.4" fill="url(#gl)" stroke="#3a4048" stroke-width="0.6"/><circle cx="391.40" cy="85.66" r="1.4" fill="url(#gl)" stroke="#3a4048" stroke-width="0.6"/><circle cx="391.39" cy="82.39" r="1.4" fill="url(#gl)" stroke="#3a4048" stroke-width="0.6"/><circle cx="391.39" cy="79.12" r="1.45" fill="url(#gb)" stroke="#0a1550" stroke-width="0.55"/><circle cx="391.40" cy="75.84" r="1.45" fill="url(#gb)" stroke="#0a1550" stroke-width="0.55"/><circle cx="391.38" cy="72.57" r="1.45" fill="url(#go)" stroke="#7a4a05" stroke-width="0.55"/><circle cx="391.70" cy="69.32" r="1.4" fill="url(#gl)" stroke="#3a4048" stroke-width="0.6"/><circle cx="392.73" cy="66.23" r="1.4" fill="url(#gl)" stroke="#3a4048" stroke-width="0.6"/><circle cx="394.83" cy="63.74" r="1.4" fill="url(#gl)" stroke="#3a4048" stroke-width="0.6"/><circle cx="397.76" cy="62.33" r="1.4" fill="url(#gl)" stroke="#3a4048" stroke-width="0.6"/><circle cx="401.00" cy="61.90" r="1.4" fill="url(#gl)" stroke="#3a4048" stroke-width="0.6"/><circle cx="404.23" cy="62.33" r="1.4" fill="url(#gl)" stroke="#3a4048" stroke-width="0.6"/><circle cx="407.16" cy="63.74" r="1.4" fill="url(#gl)" stroke="#3a4048" stroke-width="0.6"/><circle cx="409.26" cy="66.22" r="1.4" fill="url(#gl)" stroke="#3a4048" stroke-width="0.6"/><circle cx="410.30" cy="69.31" r="1.4" fill="url(#gl)" stroke="#3a4048" stroke-width="0.6"/><circle cx="410.62" cy="72.56" r="1.45" fill="url(#gb)" stroke="#0a1550" stroke-width="0.55"/><circle cx="410.60" cy="75.83" r="1.4" fill="url(#gl)" stroke="#3a4048" stroke-width="0.6"/><circle cx="410.61" cy="79.11" r="1.4" fill="url(#gl)" stroke="#3a4048" stroke-width="0.6"/><circle cx="410.61" cy="82.38" r="1.4" fill="url(#gl)" stroke="#3a4048" stroke-width="0.6"/><circle cx="410.60" cy="85.65" r="1.4" fill="url(#gl)" stroke="#3a4048" stroke-width="0.6"/><circle cx="410.60" cy="88.92" r="1.4" fill="url(#gl)" stroke="#3a4048" stroke-width="0.6"/><circle cx="410.60" cy="92.20" r="1.4" fill="url(#gl)" stroke="#3a4048" stroke-width="0.6"/><circle cx="410.60" cy="95.47" r="1.4" fill="url(#gl)" stroke="#3a4048" stroke-width="0.6"/><circle cx="410.60" cy="98.74" r="1.45" fill="url(#gb)" stroke="#0a1550" stroke-width="0.55"/><circle cx="410.60" cy="102.02" r="1.4" fill="url(#gl)" stroke="#3a4048" stroke-width="0.6"/><circle cx="410.60" cy="105.29" r="1.45" fill="url(#gb)" stroke="#0a1550" stroke-width="0.55"/><circle cx="410.59" cy="108.53" r="1.45" fill="url(#go)" stroke="#7a4a05" stroke-width="0.55"/><circle cx="410.44" cy="111.77" r="1.45" fill="url(#go)" stroke="#7a4a05" stroke-width="0.55"/><circle cx="410.14" cy="114.99" r="1.4" fill="url(#gl)" stroke="#3a4048" stroke-width="0.6"/><circle cx="409.16" cy="118.05" r="1.45" fill="url(#gb)" stroke="#0a1550" stroke-width="0.55"/><circle cx="407.23" cy="120.63" r="1.4" fill="url(#gl)" stroke="#3a4048" stroke-width="0.6"/><circle cx="404.56" cy="122.42" r="1.4" fill="url(#gl)" stroke="#3a4048" stroke-width="0.6"/><circle cx="401.39" cy="122.84" r="1.4" fill="url(#gl)" stroke="#3a4048" stroke-width="0.6"/><circle cx="398.41" cy="121.65" r="1.45" fill="url(#gb)" stroke="#0a1550" stroke-width="0.55"/><circle cx="395.85" cy="119.68" r="1.4" fill="url(#gl)" stroke="#3a4048" stroke-width="0.6"/><circle cx="393.88" cy="117.13" r="1.4" fill="url(#gl)" stroke="#3a4048" stroke-width="0.6"/><circle cx="393.12" cy="114.02" r="1.4" fill="url(#gl)" stroke="#3a4048" stroke-width="0.6"/><circle cx="393.31" cy="110.80" r="1.4" fill="url(#gl)" stroke="#3a4048" stroke-width="0.6"/><circle cx="394.63" cy="107.87" r="1.4" fill="url(#gl)" stroke="#3a4048" stroke-width="0.6"/><circle cx="396.60" cy="105.30" r="1.45" fill="url(#gb)" stroke="#0a1550" stroke-width="0.55"/><circle cx="397.83" cy="102.29" r="1.4" fill="url(#gl)" stroke="#3a4048" stroke-width="0.6"/><circle cx="399.19" cy="99.35" r="1.4" fill="url(#gl)" stroke="#3a4048" stroke-width="0.6"/><circle cx="400.84" cy="96.56" r="1.4" fill="url(#gl)" stroke="#3a4048" stroke-width="0.6"/><circle cx="403.07" cy="94.21" r="1.45" fill="url(#gb)" stroke="#0a1550" stroke-width="0.55"/><circle cx="405.90" cy="92.64" r="1.4" fill="url(#gl)" stroke="#3a4048" stroke-width="0.6"/><circle cx="409.00" cy="91.70" r="1.45" fill="url(#gb)" stroke="#0a1550" stroke-width="0.55"/><circle cx="412.22" cy="91.65" r="1.4" fill="url(#gl)" stroke="#3a4048" stroke-width="0.6"/><circle cx="415.17" cy="92.93" r="1.4" fill="url(#gl)" stroke="#3a4048" stroke-width="0.6"/><circle cx="416.89" cy="95.60" r="1.4" fill="url(#gl)" stroke="#3a4048" stroke-width="0.6"/><circle cx="417.13" cy="98.82" r="1.45" fill="url(#gb)" stroke="#0a1550" stroke-width="0.55"/><circle cx="417.15" cy="102.07" r="1.4" fill="url(#gl)" stroke="#3a4048" stroke-width="0.6"/><circle cx="417.50" cy="105.30" r="1.45" fill="url(#gb)" stroke="#0a1550" stroke-width="0.55"/><circle cx="459.90" cy="105.25" r="1.45" fill="url(#gb)" stroke="#0a1550" stroke-width="0.55"/><circle cx="459.90" cy="101.93" r="1.4" fill="url(#gl)" stroke="#3a4048" stroke-width="0.6"/><circle cx="459.90" cy="98.62" r="1.4" fill="url(#gl)" stroke="#3a4048" stroke-width="0.6"/><circle cx="459.90" cy="95.30" r="1.4" fill="url(#gl)" stroke="#3a4048" stroke-width="0.6"/><circle cx="459.90" cy="91.98" r="1.4" fill="url(#gl)" stroke="#3a4048" stroke-width="0.6"/><circle cx="459.90" cy="88.67" r="1.4" fill="url(#gl)" stroke="#3a4048" stroke-width="0.6"/><circle cx="459.90" cy="85.35" r="1.4" fill="url(#gl)" stroke="#3a4048" stroke-width="0.6"/><circle cx="459.90" cy="82.03" r="1.4" fill="url(#gl)" stroke="#3a4048" stroke-width="0.6"/><circle cx="459.90" cy="78.71" r="1.4" fill="url(#gl)" stroke="#3a4048" stroke-width="0.6"/><circle cx="459.89" cy="75.40" r="1.45" fill="url(#gb)" stroke="#0a1550" stroke-width="0.55"/><circle cx="459.90" cy="72.08" r="1.4" fill="url(#gl)" stroke="#3a4048" stroke-width="0.6"/><circle cx="459.87" cy="68.76" r="1.4" fill="url(#gl)" stroke="#3a4048" stroke-width="0.6"/><circle cx="459.93" cy="65.45" r="1.4" fill="url(#gl)" stroke="#3a4048" stroke-width="0.6"/><circle cx="460.34" cy="62.16" r="1.4" fill="url(#gl)" stroke="#3a4048" stroke-width="0.6"/><circle cx="461.39" cy="59.03" r="1.45" fill="url(#go)" stroke="#7a4a05" stroke-width="0.55"/><circle cx="463.37" cy="56.38" r="1.45" fill="url(#go)" stroke="#7a4a05" stroke-width="0.55"/><circle cx="466.23" cy="54.77" r="1.45" fill="url(#go)" stroke="#7a4a05" stroke-width="0.55"/><circle cx="469.49" cy="54.25" r="1.4" fill="url(#gl)" stroke="#3a4048" stroke-width="0.6"/><circle cx="472.76" cy="54.76" r="1.4" fill="url(#gl)" stroke="#3a4048" stroke-width="0.6"/><circle cx="475.62" cy="56.38" r="1.4" fill="url(#gl)" stroke="#3a4048" stroke-width="0.6"/><circle cx="477.61" cy="59.02" r="1.4" fill="url(#gl)" stroke="#3a4048" stroke-width="0.6"/><circle cx="478.66" cy="62.15" r="1.45" fill="url(#go)" stroke="#7a4a05" stroke-width="0.55"/><circle cx="479.07" cy="65.44" r="1.4" fill="url(#gl)" stroke="#3a4048" stroke-width="0.6"/><circle cx="479.13" cy="68.75" r="1.45" fill="url(#gb)" stroke="#0a1550" stroke-width="0.55"/><circle cx="479.10" cy="72.07" r="1.45" fill="url(#go)" stroke="#7a4a05" stroke-width="0.55"/><circle cx="479.11" cy="75.39" r="1.4" fill="url(#gl)" stroke="#3a4048" stroke-width="0.6"/><circle cx="479.10" cy="78.70" r="1.4" fill="url(#gl)" stroke="#3a4048" stroke-width="0.6"/><circle cx="479.10" cy="82.02" r="1.45" fill="url(#gb)" stroke="#0a1550" stroke-width="0.55"/><circle cx="479.10" cy="85.34" r="1.45" fill="url(#go)" stroke="#7a4a05" stroke-width="0.55"/><circle cx="479.10" cy="88.65" r="1.45" fill="url(#go)" stroke="#7a4a05" stroke-width="0.55"/><circle cx="479.10" cy="91.97" r="1.45" fill="url(#go)" stroke="#7a4a05" stroke-width="0.55"/><circle cx="479.10" cy="95.29" r="1.45" fill="url(#go)" stroke="#7a4a05" stroke-width="0.55"/><circle cx="479.10" cy="98.60" r="1.45" fill="url(#gb)" stroke="#0a1550" stroke-width="0.55"/><circle cx="479.10" cy="101.92" r="1.4" fill="url(#gl)" stroke="#3a4048" stroke-width="0.6"/><circle cx="479.10" cy="105.24" r="1.45" fill="url(#gb)" stroke="#0a1550" stroke-width="0.55"/><circle cx="479.09" cy="108.53" r="1.4" fill="url(#gl)" stroke="#3a4048" stroke-width="0.6"/><circle cx="479.04" cy="111.80" r="1.4" fill="url(#gl)" stroke="#3a4048" stroke-width="0.6"/><circle cx="478.88" cy="115.07" r="1.45" fill="url(#gb)" stroke="#0a1550" stroke-width="0.55"/><circle cx="478.62" cy="118.34" r="1.45" fill="url(#gb)" stroke="#0a1550" stroke-width="0.55"/><circle cx="477.92" cy="121.53" r="1.4" fill="url(#gl)" stroke="#3a4048" stroke-width="0.6"/><circle cx="476.56" cy="124.50" r="1.4" fill="url(#gl)" stroke="#3a4048" stroke-width="0.6"/><circle cx="474.50" cy="127.03" r="1.4" fill="url(#gl)" stroke="#3a4048" stroke-width="0.6"/><circle cx="471.68" cy="128.64" r="1.4" fill="url(#gl)" stroke="#3a4048" stroke-width="0.6"/><circle cx="468.52" cy="128.14" r="1.4" fill="url(#gl)" stroke="#3a4048" stroke-width="0.6"/><circle cx="465.90" cy="126.19" r="1.4" fill="url(#gl)" stroke="#3a4048" stroke-width="0.6"/><circle cx="463.80" cy="123.68" r="1.4" fill="url(#gl)" stroke="#3a4048" stroke-width="0.6"/><circle cx="462.28" cy="120.79" r="1.4" fill="url(#gl)" stroke="#3a4048" stroke-width="0.6"/><circle cx="461.66" cy="117.58" r="1.4" fill="url(#gl)" stroke="#3a4048" stroke-width="0.6"/><circle cx="461.64" cy="114.31" r="1.45" fill="url(#go)" stroke="#7a4a05" stroke-width="0.55"/><circle cx="462.13" cy="111.08" r="1.4" fill="url(#gl)" stroke="#3a4048" stroke-width="0.6"/><circle cx="463.45" cy="108.08" r="1.4" fill="url(#gl)" stroke="#3a4048" stroke-width="0.6"/><circle cx="465.10" cy="105.25" r="1.45" fill="url(#gb)" stroke="#0a1550" stroke-width="0.55"/><circle cx="466.34" cy="102.33" r="1.4" fill="url(#gl)" stroke="#3a4048" stroke-width="0.6"/><circle cx="467.72" cy="99.48" r="1.4" fill="url(#gl)" stroke="#3a4048" stroke-width="0.6"/><circle cx="469.39" cy="96.79" r="1.45" fill="url(#gb)" stroke="#0a1550" stroke-width="0.55"/><circle cx="471.63" cy="94.56" r="1.4" fill="url(#gl)" stroke="#3a4048" stroke-width="0.6"/><circle cx="474.42" cy="93.08" r="1.4" fill="url(#gl)" stroke="#3a4048" stroke-width="0.6"/><circle cx="477.46" cy="92.19" r="1.4" fill="url(#gl)" stroke="#3a4048" stroke-width="0.6"/><circle cx="480.61" cy="92.12" r="1.4" fill="url(#gl)" stroke="#3a4048" stroke-width="0.6"/><circle cx="483.54" cy="93.28" r="1.4" fill="url(#gl)" stroke="#3a4048" stroke-width="0.6"/><circle cx="485.35" cy="95.78" r="1.4" fill="url(#gl)" stroke="#3a4048" stroke-width="0.6"/><circle cx="485.64" cy="98.93" r="1.45" fill="url(#gb)" stroke="#0a1550" stroke-width="0.55"/><circle cx="485.65" cy="102.10" r="1.4" fill="url(#gl)" stroke="#3a4048" stroke-width="0.6"/><circle cx="486.00" cy="105.25" r="1.45" fill="url(#gb)" stroke="#0a1550" stroke-width="0.55"/><circle cx="7.10" cy="104.60" r="1.4" fill="url(#gl)" stroke="#3a4048" stroke-width="0.6"/><circle cx="9.60" cy="104.60" r="1.4" fill="url(#gl)" stroke="#3a4048" stroke-width="0.6"/><circle cx="12.10" cy="104.60" r="1.4" fill="url(#gl)" stroke="#3a4048" stroke-width="0.6"/><circle cx="44.85" cy="104.70" r="1.45" fill="url(#go)" stroke="#7a4a05" stroke-width="0.55"/><circle cx="48.60" cy="104.70" r="1.4" fill="url(#gl)" stroke="#3a4048" stroke-width="0.6"/><circle cx="60.30" cy="104.75" r="1.45" fill="url(#go)" stroke="#7a4a05" stroke-width="0.55"/><circle cx="64.10" cy="104.75" r="1.45" fill="url(#go)" stroke="#7a4a05" stroke-width="0.55"/><circle cx="98.40" cy="104.75" r="1.45" fill="url(#go)" stroke="#7a4a05" stroke-width="0.55"/><circle cx="101.75" cy="104.75" r="1.4" fill="url(#gl)" stroke="#3a4048" stroke-width="0.6"/><circle cx="114.75" cy="104.75" r="1.4" fill="url(#gl)" stroke="#3a4048" stroke-width="0.6"/><circle cx="117.90" cy="104.75" r="1.4" fill="url(#gl)" stroke="#3a4048" stroke-width="0.6"/><circle cx="152.50" cy="104.75" r="1.4" fill="url(#gl)" stroke="#3a4048" stroke-width="0.6"/><circle cx="155.75" cy="104.75" r="1.4" fill="url(#gl)" stroke="#3a4048" stroke-width="0.6"/><circle cx="169.00" cy="104.60" r="1.4" fill="url(#gl)" stroke="#3a4048" stroke-width="0.6"/><circle cx="172.50" cy="104.60" r="1.4" fill="url(#gl)" stroke="#3a4048" stroke-width="0.6"/><circle cx="206.90" cy="104.60" r="1.45" fill="url(#go)" stroke="#7a4a05" stroke-width="0.55"/><circle cx="210.25" cy="104.60" r="1.4" fill="url(#gl)" stroke="#3a4048" stroke-width="0.6"/><circle cx="272.00" cy="100.25" r="1.4" fill="url(#gl)" stroke="#3a4048" stroke-width="0.6"/><circle cx="275.10" cy="100.25" r="1.4" fill="url(#gl)" stroke="#3a4048" stroke-width="0.6"/><circle cx="309.50" cy="100.25" r="1.4" fill="url(#gl)" stroke="#3a4048" stroke-width="0.6"/><circle cx="312.60" cy="100.25" r="1.4" fill="url(#gl)" stroke="#3a4048" stroke-width="0.6"/><circle cx="383.75" cy="105.30" r="1.4" fill="url(#gl)" stroke="#3a4048" stroke-width="0.6"/><circle cx="387.00" cy="105.30" r="1.4" fill="url(#gl)" stroke="#3a4048" stroke-width="0.6"/><circle cx="421.25" cy="105.30" r="1.4" fill="url(#gl)" stroke="#3a4048" stroke-width="0.6"/><circle cx="424.10" cy="105.30" r="1.4" fill="url(#gl)" stroke="#3a4048" stroke-width="0.6"/><circle cx="451.60" cy="105.25" r="1.4" fill="url(#gl)" stroke="#3a4048" stroke-width="0.6"/><circle cx="455.00" cy="105.25" r="1.45" fill="url(#go)" stroke="#7a4a05" stroke-width="0.55"/><circle cx="489.20" cy="105.25" r="1.4" fill="url(#gl)" stroke="#3a4048" stroke-width="0.6"/><circle cx="492.50" cy="105.25" r="1.4" fill="url(#gl)" stroke="#3a4048" stroke-width="0.6"/><rect x="0.75" y="0.75" width="518.5" height="366.5" fill="none" stroke="#000" stroke-width="1.5"/></svg></body></html>
